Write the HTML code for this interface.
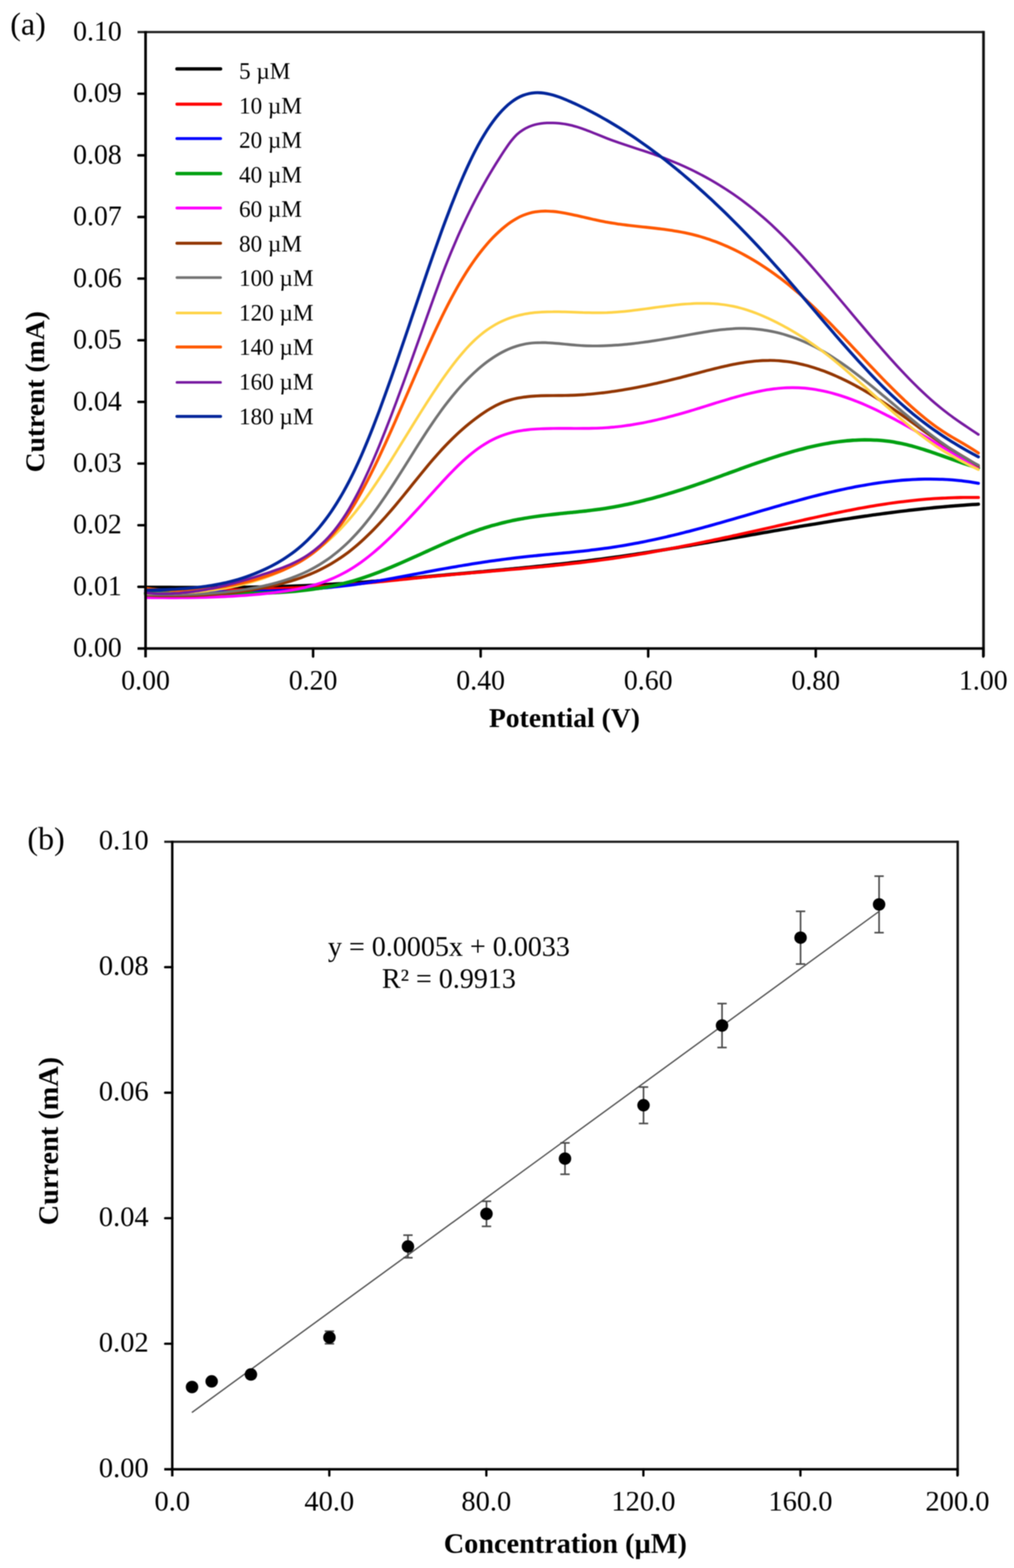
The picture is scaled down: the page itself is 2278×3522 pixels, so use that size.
<!DOCTYPE html>
<html lang="en"><head><meta charset="utf-8"><title>Figure</title>
<style>html,body{margin:0;padding:0;background:#fff;}svg{display:block;filter:blur(0.8px);}</style></head>
<body>
<svg width="2278" height="3522" viewBox="0 0 2278 3522" font-family="'Liberation Serif', serif" fill="#000">
<rect width="2278" height="3522" fill="#fff"/>
<g fill="none" stroke-linecap="round" stroke-linejoin="round">
<path d="M327.0,1319.1C329.2,1319.1 336.0,1319.1 340.5,1319.1C344.9,1319.2 349.4,1319.2 353.9,1319.2C358.4,1319.2 362.9,1319.3 367.4,1319.3C371.9,1319.3 376.4,1319.3 380.8,1319.3C385.3,1319.4 389.8,1319.4 394.3,1319.4C398.8,1319.4 403.3,1319.4 407.8,1319.5C412.2,1319.5 416.7,1319.5 421.2,1319.5C425.7,1319.5 430.2,1319.5 434.7,1319.5C439.2,1319.5 443.7,1319.5 448.1,1319.5C452.6,1319.5 457.1,1319.5 461.6,1319.5C466.1,1319.5 470.6,1319.5 475.1,1319.5C479.6,1319.5 484.0,1319.5 488.5,1319.5C493.0,1319.5 497.5,1319.4 502.0,1319.4C506.5,1319.4 511.0,1319.4 515.4,1319.3C519.9,1319.3 524.4,1319.3 528.9,1319.2C533.4,1319.2 537.9,1319.1 542.4,1319.1C546.9,1319.0 551.3,1319.0 555.8,1318.9C560.3,1318.8 564.8,1318.8 569.3,1318.7C573.8,1318.6 578.3,1318.5 582.7,1318.4C587.2,1318.4 591.7,1318.3 596.2,1318.2C600.7,1318.1 605.2,1318.0 609.7,1317.8C614.2,1317.7 618.6,1317.6 623.1,1317.5C627.6,1317.4 632.1,1317.2 636.6,1317.1C641.1,1316.9 645.6,1316.8 650.1,1316.6C654.5,1316.5 659.0,1316.3 663.5,1316.2C668.0,1316.0 672.5,1315.8 677.0,1315.6C681.5,1315.4 685.9,1315.3 690.4,1315.1C694.9,1314.9 699.4,1314.7 703.9,1314.4C708.4,1314.2 712.9,1314.0 717.4,1313.8C721.8,1313.6 726.3,1313.3 730.8,1313.1C735.3,1312.8 739.8,1312.6 744.3,1312.3C748.8,1312.1 753.2,1311.8 757.7,1311.5C762.2,1311.3 766.7,1311.0 771.2,1310.7C775.7,1310.4 780.2,1310.1 784.7,1309.8C789.1,1309.5 793.6,1309.2 798.1,1308.9C802.6,1308.6 807.1,1308.2 811.6,1307.9C816.1,1307.6 820.5,1307.2 825.0,1306.9C829.5,1306.6 834.0,1306.2 838.5,1305.8C843.0,1305.5 847.5,1305.1 852.0,1304.7C856.4,1304.4 860.9,1304.0 865.4,1303.6C869.9,1303.2 874.4,1302.9 878.9,1302.5C883.4,1302.1 887.9,1301.7 892.3,1301.3C896.8,1300.9 901.3,1300.5 905.8,1300.1C910.3,1299.7 914.8,1299.3 919.3,1298.9C923.7,1298.5 928.2,1298.1 932.7,1297.7C937.2,1297.3 941.7,1296.9 946.2,1296.5C950.7,1296.0 955.2,1295.6 959.6,1295.2C964.1,1294.8 968.6,1294.4 973.1,1294.0C977.6,1293.6 982.1,1293.2 986.6,1292.8C991.0,1292.4 995.5,1291.9 1000.0,1291.5C1004.5,1291.1 1009.0,1290.7 1013.5,1290.3C1018.0,1289.9 1022.5,1289.5 1026.9,1289.1C1031.4,1288.7 1035.9,1288.3 1040.4,1287.9C1044.9,1287.5 1049.4,1287.1 1053.9,1286.7C1058.4,1286.3 1062.8,1285.9 1067.3,1285.5C1071.8,1285.1 1076.3,1284.7 1080.8,1284.3C1085.3,1283.8 1089.8,1283.4 1094.2,1283.0C1098.7,1282.6 1103.2,1282.2 1107.7,1281.8C1112.2,1281.4 1116.7,1281.0 1121.2,1280.5C1125.7,1280.1 1130.1,1279.7 1134.6,1279.3C1139.1,1278.9 1143.6,1278.4 1148.1,1278.0C1152.6,1277.6 1157.1,1277.2 1161.5,1276.7C1166.0,1276.3 1170.5,1275.9 1175.0,1275.4C1179.5,1275.0 1184.0,1274.5 1188.5,1274.1C1193.0,1273.6 1197.4,1273.2 1201.9,1272.7C1206.4,1272.3 1210.9,1271.8 1215.4,1271.4C1219.9,1270.9 1224.4,1270.4 1228.8,1270.0C1233.3,1269.5 1237.8,1269.0 1242.3,1268.5C1246.8,1268.0 1251.3,1267.6 1255.8,1267.1C1260.3,1266.6 1264.7,1266.1 1269.2,1265.6C1273.7,1265.1 1278.2,1264.5 1282.7,1264.0C1287.2,1263.5 1291.7,1263.0 1296.2,1262.5C1300.6,1261.9 1305.1,1261.4 1309.6,1260.9C1314.1,1260.3 1318.6,1259.8 1323.1,1259.2C1327.6,1258.7 1332.0,1258.1 1336.5,1257.5C1341.0,1256.9 1345.5,1256.4 1350.0,1255.8C1354.5,1255.2 1359.0,1254.6 1363.5,1254.0C1367.9,1253.4 1372.4,1252.8 1376.9,1252.2C1381.4,1251.6 1385.9,1250.9 1390.4,1250.3C1394.9,1249.7 1399.3,1249.0 1403.8,1248.4C1408.3,1247.7 1412.8,1247.1 1417.3,1246.4C1421.8,1245.8 1426.3,1245.1 1430.8,1244.4C1435.2,1243.7 1439.7,1243.1 1444.2,1242.4C1448.7,1241.7 1453.2,1241.0 1457.7,1240.3C1462.2,1239.6 1466.6,1238.9 1471.1,1238.2C1475.6,1237.5 1480.1,1236.8 1484.6,1236.1C1489.1,1235.3 1493.6,1234.6 1498.1,1233.9C1502.5,1233.2 1507.0,1232.4 1511.5,1231.7C1516.0,1231.0 1520.5,1230.2 1525.0,1229.5C1529.5,1228.7 1534.0,1228.0 1538.4,1227.2C1542.9,1226.5 1547.4,1225.7 1551.9,1225.0C1556.4,1224.2 1560.9,1223.4 1565.4,1222.7C1569.8,1221.9 1574.3,1221.2 1578.8,1220.4C1583.3,1219.6 1587.8,1218.8 1592.3,1218.1C1596.8,1217.3 1601.3,1216.5 1605.7,1215.7C1610.2,1215.0 1614.7,1214.2 1619.2,1213.4C1623.7,1212.6 1628.2,1211.8 1632.7,1211.1C1637.1,1210.3 1641.6,1209.5 1646.1,1208.7C1650.6,1207.9 1655.1,1207.1 1659.6,1206.3C1664.1,1205.6 1668.6,1204.8 1673.0,1204.0C1677.5,1203.2 1682.0,1202.4 1686.5,1201.6C1691.0,1200.8 1695.5,1200.0 1700.0,1199.3C1704.5,1198.5 1708.9,1197.7 1713.4,1196.9C1717.9,1196.1 1722.4,1195.3 1726.9,1194.6C1731.4,1193.8 1735.9,1193.0 1740.3,1192.2C1744.8,1191.4 1749.3,1190.7 1753.8,1189.9C1758.3,1189.1 1762.8,1188.3 1767.3,1187.6C1771.8,1186.8 1776.2,1186.0 1780.7,1185.3C1785.2,1184.5 1789.7,1183.7 1794.2,1183.0C1798.7,1182.2 1803.2,1181.5 1807.6,1180.7C1812.1,1180.0 1816.6,1179.2 1821.1,1178.5C1825.6,1177.7 1830.1,1177.0 1834.6,1176.3C1839.1,1175.5 1843.5,1174.8 1848.0,1174.1C1852.5,1173.3 1857.0,1172.6 1861.5,1171.9C1866.0,1171.2 1870.5,1170.4 1874.9,1169.7C1879.4,1169.0 1883.9,1168.3 1888.4,1167.6C1892.9,1166.9 1897.4,1166.2 1901.9,1165.6C1906.4,1164.9 1910.8,1164.2 1915.3,1163.5C1919.8,1162.8 1924.3,1162.2 1928.8,1161.5C1933.3,1160.8 1937.8,1160.2 1942.3,1159.5C1946.7,1158.9 1951.2,1158.3 1955.7,1157.6C1960.2,1157.0 1964.7,1156.4 1969.2,1155.7C1973.7,1155.1 1978.1,1154.5 1982.6,1153.9C1987.1,1153.3 1991.6,1152.7 1996.1,1152.1C2000.6,1151.5 2005.1,1151.0 2009.6,1150.4C2014.0,1149.8 2018.5,1149.3 2023.0,1148.7C2027.5,1148.2 2032.0,1147.6 2036.5,1147.1C2041.0,1146.5 2045.4,1146.0 2049.9,1145.5C2054.4,1145.0 2058.9,1144.5 2063.4,1144.0C2067.9,1143.5 2072.4,1143.0 2076.9,1142.5C2081.3,1142.1 2085.8,1141.6 2090.3,1141.1C2094.8,1140.7 2099.3,1140.3 2103.8,1139.8C2108.3,1139.4 2112.8,1139.0 2117.2,1138.6C2121.7,1138.2 2126.2,1137.8 2130.7,1137.4C2135.2,1137.0 2139.7,1136.6 2144.2,1136.3C2148.6,1135.9 2153.1,1135.5 2157.6,1135.2C2162.1,1134.9 2166.6,1134.6 2171.1,1134.2C2175.6,1133.9 2180.1,1133.6 2184.5,1133.3C2189.0,1133.1 2195.8,1132.7 2198.0,1132.5" stroke="#000000" stroke-width="7.4"/>
<path d="M327.0,1331.0C329.2,1330.9 336.0,1330.6 340.5,1330.4C344.9,1330.3 349.4,1330.1 353.9,1329.9C358.4,1329.7 362.9,1329.6 367.4,1329.4C371.9,1329.2 376.4,1329.1 380.8,1328.9C385.3,1328.8 389.8,1328.6 394.3,1328.5C398.8,1328.4 403.3,1328.2 407.8,1328.1C412.2,1328.0 416.7,1327.8 421.2,1327.7C425.7,1327.6 430.2,1327.5 434.7,1327.3C439.2,1327.2 443.7,1327.1 448.1,1327.0C452.6,1326.9 457.1,1326.8 461.6,1326.7C466.1,1326.5 470.6,1326.4 475.1,1326.3C479.6,1326.2 484.0,1326.1 488.5,1326.0C493.0,1325.9 497.5,1325.8 502.0,1325.7C506.5,1325.6 511.0,1325.4 515.4,1325.3C519.9,1325.2 524.4,1325.1 528.9,1325.0C533.4,1324.9 537.9,1324.8 542.4,1324.6C546.9,1324.5 551.3,1324.4 555.8,1324.3C560.3,1324.2 564.8,1324.0 569.3,1323.9C573.8,1323.8 578.3,1323.6 582.7,1323.5C587.2,1323.3 591.7,1323.2 596.2,1323.1C600.7,1322.9 605.2,1322.7 609.7,1322.6C614.2,1322.4 618.6,1322.3 623.1,1322.1C627.6,1321.9 632.1,1321.7 636.6,1321.5C641.1,1321.4 645.6,1321.2 650.1,1321.0C654.5,1320.8 659.0,1320.6 663.5,1320.4C668.0,1320.2 672.5,1319.9 677.0,1319.7C681.5,1319.5 685.9,1319.3 690.4,1319.0C694.9,1318.8 699.4,1318.5 703.9,1318.3C708.4,1318.0 712.9,1317.8 717.4,1317.5C721.8,1317.2 726.3,1316.9 730.8,1316.7C735.3,1316.4 739.8,1316.1 744.3,1315.8C748.8,1315.5 753.2,1315.2 757.7,1314.8C762.2,1314.5 766.7,1314.2 771.2,1313.8C775.7,1313.5 780.2,1313.2 784.7,1312.8C789.1,1312.5 793.6,1312.1 798.1,1311.7C802.6,1311.3 807.1,1311.0 811.6,1310.6C816.1,1310.2 820.5,1309.8 825.0,1309.4C829.5,1308.9 834.0,1308.5 838.5,1308.1C843.0,1307.7 847.5,1307.3 852.0,1306.8C856.4,1306.4 860.9,1306.0 865.4,1305.5C869.9,1305.1 874.4,1304.6 878.9,1304.2C883.4,1303.7 887.9,1303.3 892.3,1302.8C896.8,1302.4 901.3,1301.9 905.8,1301.4C910.3,1301.0 914.8,1300.5 919.3,1300.1C923.7,1299.6 928.2,1299.2 932.7,1298.7C937.2,1298.3 941.7,1297.8 946.2,1297.3C950.7,1296.9 955.2,1296.4 959.6,1296.0C964.1,1295.5 968.6,1295.1 973.1,1294.7C977.6,1294.2 982.1,1293.8 986.6,1293.4C991.0,1292.9 995.5,1292.5 1000.0,1292.1C1004.5,1291.7 1009.0,1291.3 1013.5,1290.9C1018.0,1290.5 1022.5,1290.1 1026.9,1289.7C1031.4,1289.3 1035.9,1288.9 1040.4,1288.5C1044.9,1288.1 1049.4,1287.7 1053.9,1287.3C1058.4,1286.9 1062.8,1286.5 1067.3,1286.1C1071.8,1285.7 1076.3,1285.4 1080.8,1285.0C1085.3,1284.6 1089.8,1284.2 1094.2,1283.8C1098.7,1283.4 1103.2,1283.1 1107.7,1282.7C1112.2,1282.3 1116.7,1281.9 1121.2,1281.5C1125.7,1281.2 1130.1,1280.8 1134.6,1280.4C1139.1,1280.0 1143.6,1279.6 1148.1,1279.2C1152.6,1278.8 1157.1,1278.5 1161.5,1278.1C1166.0,1277.7 1170.5,1277.3 1175.0,1276.9C1179.5,1276.5 1184.0,1276.1 1188.5,1275.7C1193.0,1275.2 1197.4,1274.8 1201.9,1274.4C1206.4,1274.0 1210.9,1273.6 1215.4,1273.1C1219.9,1272.7 1224.4,1272.3 1228.8,1271.8C1233.3,1271.4 1237.8,1271.0 1242.3,1270.5C1246.8,1270.1 1251.3,1269.6 1255.8,1269.1C1260.3,1268.7 1264.7,1268.2 1269.2,1267.7C1273.7,1267.2 1278.2,1266.7 1282.7,1266.2C1287.2,1265.7 1291.7,1265.2 1296.2,1264.7C1300.6,1264.2 1305.1,1263.7 1309.6,1263.1C1314.1,1262.6 1318.6,1262.1 1323.1,1261.5C1327.6,1260.9 1332.0,1260.4 1336.5,1259.8C1341.0,1259.2 1345.5,1258.6 1350.0,1258.0C1354.5,1257.4 1359.0,1256.8 1363.5,1256.2C1367.9,1255.5 1372.4,1254.9 1376.9,1254.3C1381.4,1253.6 1385.9,1252.9 1390.4,1252.3C1394.9,1251.6 1399.3,1250.9 1403.8,1250.2C1408.3,1249.5 1412.8,1248.8 1417.3,1248.1C1421.8,1247.3 1426.3,1246.6 1430.8,1245.9C1435.2,1245.1 1439.7,1244.4 1444.2,1243.6C1448.7,1242.9 1453.2,1242.1 1457.7,1241.3C1462.2,1240.5 1466.6,1239.7 1471.1,1238.9C1475.6,1238.1 1480.1,1237.3 1484.6,1236.5C1489.1,1235.7 1493.6,1234.8 1498.1,1234.0C1502.5,1233.2 1507.0,1232.3 1511.5,1231.5C1516.0,1230.6 1520.5,1229.7 1525.0,1228.9C1529.5,1228.0 1534.0,1227.1 1538.4,1226.2C1542.9,1225.3 1547.4,1224.4 1551.9,1223.5C1556.4,1222.6 1560.9,1221.7 1565.4,1220.8C1569.8,1219.9 1574.3,1219.0 1578.8,1218.1C1583.3,1217.1 1587.8,1216.2 1592.3,1215.3C1596.8,1214.3 1601.3,1213.4 1605.7,1212.4C1610.2,1211.5 1614.7,1210.5 1619.2,1209.6C1623.7,1208.6 1628.2,1207.6 1632.7,1206.7C1637.1,1205.7 1641.6,1204.7 1646.1,1203.7C1650.6,1202.8 1655.1,1201.8 1659.6,1200.8C1664.1,1199.8 1668.6,1198.8 1673.0,1197.8C1677.5,1196.8 1682.0,1195.8 1686.5,1194.8C1691.0,1193.8 1695.5,1192.8 1700.0,1191.8C1704.5,1190.8 1708.9,1189.8 1713.4,1188.8C1717.9,1187.8 1722.4,1186.7 1726.9,1185.7C1731.4,1184.7 1735.9,1183.7 1740.3,1182.7C1744.8,1181.7 1749.3,1180.6 1753.8,1179.6C1758.3,1178.6 1762.8,1177.6 1767.3,1176.6C1771.8,1175.5 1776.2,1174.5 1780.7,1173.5C1785.2,1172.5 1789.7,1171.5 1794.2,1170.5C1798.7,1169.4 1803.2,1168.4 1807.6,1167.4C1812.1,1166.4 1816.6,1165.4 1821.1,1164.4C1825.6,1163.4 1830.1,1162.4 1834.6,1161.5C1839.1,1160.5 1843.5,1159.5 1848.0,1158.5C1852.5,1157.6 1857.0,1156.6 1861.5,1155.7C1866.0,1154.7 1870.5,1153.8 1874.9,1152.8C1879.4,1151.9 1883.9,1151.0 1888.4,1150.1C1892.9,1149.2 1897.4,1148.3 1901.9,1147.4C1906.4,1146.5 1910.8,1145.6 1915.3,1144.8C1919.8,1143.9 1924.3,1143.1 1928.8,1142.2C1933.3,1141.4 1937.8,1140.6 1942.3,1139.8C1946.7,1139.0 1951.2,1138.2 1955.7,1137.4C1960.2,1136.7 1964.7,1135.9 1969.2,1135.2C1973.7,1134.5 1978.1,1133.8 1982.6,1133.1C1987.1,1132.4 1991.6,1131.7 1996.1,1131.0C2000.6,1130.4 2005.1,1129.8 2009.6,1129.2C2014.0,1128.5 2018.5,1128.0 2023.0,1127.4C2027.5,1126.8 2032.0,1126.3 2036.5,1125.8C2041.0,1125.3 2045.4,1124.8 2049.9,1124.3C2054.4,1123.8 2058.9,1123.4 2063.4,1122.9C2067.9,1122.5 2072.4,1122.1 2076.9,1121.7C2081.3,1121.3 2085.8,1121.0 2090.3,1120.7C2094.8,1120.3 2099.3,1120.0 2103.8,1119.7C2108.3,1119.5 2112.8,1119.2 2117.2,1119.0C2121.7,1118.7 2126.2,1118.5 2130.7,1118.3C2135.2,1118.2 2139.7,1118.0 2144.2,1117.9C2148.6,1117.7 2153.1,1117.6 2157.6,1117.5C2162.1,1117.4 2166.6,1117.4 2171.1,1117.3C2175.6,1117.3 2180.1,1117.3 2184.5,1117.3C2189.0,1117.3 2195.8,1117.4 2198.0,1117.4" stroke="#FF0000" stroke-width="6.8"/>
<path d="M327.0,1329.2C329.2,1329.2 336.0,1329.2 340.5,1329.2C344.9,1329.2 349.4,1329.2 353.9,1329.2C358.4,1329.2 362.9,1329.2 367.4,1329.2C371.9,1329.2 376.4,1329.2 380.8,1329.3C385.3,1329.3 389.8,1329.3 394.3,1329.3C398.8,1329.3 403.3,1329.3 407.8,1329.3C412.2,1329.3 416.7,1329.3 421.2,1329.3C425.7,1329.3 430.2,1329.3 434.7,1329.3C439.2,1329.3 443.7,1329.3 448.1,1329.3C452.6,1329.3 457.1,1329.3 461.6,1329.3C466.1,1329.3 470.6,1329.2 475.1,1329.2C479.6,1329.2 484.0,1329.2 488.5,1329.2C493.0,1329.1 497.5,1329.1 502.0,1329.1C506.5,1329.0 511.0,1329.0 515.4,1329.0C519.9,1328.9 524.4,1328.9 528.9,1328.8C533.4,1328.8 537.9,1328.7 542.4,1328.6C546.9,1328.6 551.3,1328.5 555.8,1328.4C560.3,1328.4 564.8,1328.3 569.3,1328.2C573.8,1328.1 578.3,1328.0 582.7,1327.9C587.2,1327.8 591.7,1327.6 596.2,1327.5C600.7,1327.4 605.2,1327.3 609.7,1327.1C614.2,1327.0 618.6,1326.8 623.1,1326.7C627.6,1326.5 632.1,1326.3 636.6,1326.2C641.1,1326.0 645.6,1325.8 650.1,1325.6C654.5,1325.4 659.0,1325.1 663.5,1324.9C668.0,1324.7 672.5,1324.4 677.0,1324.2C681.5,1323.9 685.9,1323.6 690.4,1323.3C694.9,1323.1 699.4,1322.8 703.9,1322.4C708.4,1322.1 712.9,1321.8 717.4,1321.4C721.8,1321.1 726.3,1320.7 730.8,1320.3C735.3,1319.9 739.8,1319.5 744.3,1319.0C748.8,1318.6 753.2,1318.2 757.7,1317.7C762.2,1317.2 766.7,1316.7 771.2,1316.2C775.7,1315.7 780.2,1315.1 784.7,1314.6C789.1,1314.0 793.6,1313.4 798.1,1312.8C802.6,1312.2 807.1,1311.6 811.6,1310.9C816.1,1310.2 820.5,1309.6 825.0,1308.9C829.5,1308.2 834.0,1307.4 838.5,1306.7C843.0,1306.0 847.5,1305.2 852.0,1304.4C856.4,1303.7 860.9,1302.9 865.4,1302.1C869.9,1301.3 874.4,1300.5 878.9,1299.7C883.4,1298.9 887.9,1298.0 892.3,1297.2C896.8,1296.4 901.3,1295.5 905.8,1294.7C910.3,1293.8 914.8,1293.0 919.3,1292.1C923.7,1291.3 928.2,1290.4 932.7,1289.6C937.2,1288.7 941.7,1287.8 946.2,1287.0C950.7,1286.1 955.2,1285.3 959.6,1284.4C964.1,1283.6 968.6,1282.7 973.1,1281.9C977.6,1281.1 982.1,1280.2 986.6,1279.4C991.0,1278.6 995.5,1277.8 1000.0,1277.0C1004.5,1276.2 1009.0,1275.4 1013.5,1274.6C1018.0,1273.8 1022.5,1273.0 1026.9,1272.3C1031.4,1271.5 1035.9,1270.7 1040.4,1270.0C1044.9,1269.2 1049.4,1268.5 1053.9,1267.8C1058.4,1267.1 1062.8,1266.3 1067.3,1265.6C1071.8,1264.9 1076.3,1264.3 1080.8,1263.6C1085.3,1262.9 1089.8,1262.2 1094.2,1261.6C1098.7,1260.9 1103.2,1260.3 1107.7,1259.7C1112.2,1259.0 1116.7,1258.4 1121.2,1257.8C1125.7,1257.2 1130.1,1256.6 1134.6,1256.0C1139.1,1255.4 1143.6,1254.9 1148.1,1254.3C1152.6,1253.8 1157.1,1253.2 1161.5,1252.7C1166.0,1252.2 1170.5,1251.7 1175.0,1251.2C1179.5,1250.7 1184.0,1250.2 1188.5,1249.7C1193.0,1249.3 1197.4,1248.8 1201.9,1248.3C1206.4,1247.9 1210.9,1247.5 1215.4,1247.0C1219.9,1246.6 1224.4,1246.1 1228.8,1245.7C1233.3,1245.3 1237.8,1244.9 1242.3,1244.4C1246.8,1244.0 1251.3,1243.6 1255.8,1243.2C1260.3,1242.7 1264.7,1242.3 1269.2,1241.9C1273.7,1241.4 1278.2,1241.0 1282.7,1240.6C1287.2,1240.1 1291.7,1239.7 1296.2,1239.2C1300.6,1238.7 1305.1,1238.2 1309.6,1237.8C1314.1,1237.3 1318.6,1236.8 1323.1,1236.3C1327.6,1235.7 1332.0,1235.2 1336.5,1234.7C1341.0,1234.1 1345.5,1233.5 1350.0,1232.9C1354.5,1232.4 1359.0,1231.7 1363.5,1231.1C1367.9,1230.5 1372.4,1229.8 1376.9,1229.1C1381.4,1228.5 1385.9,1227.8 1390.4,1227.0C1394.9,1226.3 1399.3,1225.6 1403.8,1224.8C1408.3,1224.0 1412.8,1223.2 1417.3,1222.4C1421.8,1221.6 1426.3,1220.8 1430.8,1219.9C1435.2,1219.1 1439.7,1218.2 1444.2,1217.3C1448.7,1216.4 1453.2,1215.5 1457.7,1214.5C1462.2,1213.6 1466.6,1212.7 1471.1,1211.7C1475.6,1210.7 1480.1,1209.7 1484.6,1208.7C1489.1,1207.7 1493.6,1206.7 1498.1,1205.7C1502.5,1204.6 1507.0,1203.6 1511.5,1202.5C1516.0,1201.4 1520.5,1200.3 1525.0,1199.2C1529.5,1198.1 1534.0,1197.0 1538.4,1195.8C1542.9,1194.7 1547.4,1193.6 1551.9,1192.4C1556.4,1191.2 1560.9,1190.0 1565.4,1188.8C1569.8,1187.6 1574.3,1186.4 1578.8,1185.2C1583.3,1184.0 1587.8,1182.8 1592.3,1181.5C1596.8,1180.3 1601.3,1179.0 1605.7,1177.8C1610.2,1176.5 1614.7,1175.2 1619.2,1174.0C1623.7,1172.7 1628.2,1171.4 1632.7,1170.1C1637.1,1168.8 1641.6,1167.5 1646.1,1166.2C1650.6,1164.9 1655.1,1163.6 1659.6,1162.3C1664.1,1161.0 1668.6,1159.7 1673.0,1158.4C1677.5,1157.1 1682.0,1155.7 1686.5,1154.4C1691.0,1153.1 1695.5,1151.8 1700.0,1150.5C1704.5,1149.2 1708.9,1147.9 1713.4,1146.6C1717.9,1145.3 1722.4,1144.0 1726.9,1142.7C1731.4,1141.4 1735.9,1140.1 1740.3,1138.8C1744.8,1137.5 1749.3,1136.2 1753.8,1134.9C1758.3,1133.7 1762.8,1132.4 1767.3,1131.1C1771.8,1129.9 1776.2,1128.6 1780.7,1127.4C1785.2,1126.1 1789.7,1124.9 1794.2,1123.7C1798.7,1122.5 1803.2,1121.3 1807.6,1120.1C1812.1,1118.9 1816.6,1117.7 1821.1,1116.5C1825.6,1115.4 1830.1,1114.2 1834.6,1113.1C1839.1,1112.0 1843.5,1110.8 1848.0,1109.7C1852.5,1108.6 1857.0,1107.6 1861.5,1106.5C1866.0,1105.4 1870.5,1104.4 1874.9,1103.4C1879.4,1102.3 1883.9,1101.3 1888.4,1100.4C1892.9,1099.4 1897.4,1098.4 1901.9,1097.5C1906.4,1096.6 1910.8,1095.6 1915.3,1094.8C1919.8,1093.9 1924.3,1093.0 1928.8,1092.2C1933.3,1091.3 1937.8,1090.5 1942.3,1089.8C1946.7,1089.0 1951.2,1088.2 1955.7,1087.5C1960.2,1086.8 1964.7,1086.1 1969.2,1085.4C1973.7,1084.8 1978.1,1084.1 1982.6,1083.5C1987.1,1082.9 1991.6,1082.4 1996.1,1081.8C2000.6,1081.3 2005.1,1080.8 2009.6,1080.3C2014.0,1079.9 2018.5,1079.4 2023.0,1079.0C2027.5,1078.6 2032.0,1078.3 2036.5,1078.0C2041.0,1077.7 2045.4,1077.4 2049.9,1077.1C2054.4,1076.9 2058.9,1076.7 2063.4,1076.5C2067.9,1076.4 2072.4,1076.3 2076.9,1076.2C2081.3,1076.1 2085.8,1076.1 2090.3,1076.1C2094.8,1076.1 2099.3,1076.2 2103.8,1076.3C2108.3,1076.4 2112.8,1076.5 2117.2,1076.7C2121.7,1076.9 2126.2,1077.1 2130.7,1077.4C2135.2,1077.7 2139.7,1078.0 2144.2,1078.4C2148.6,1078.8 2153.1,1079.3 2157.6,1079.7C2162.1,1080.2 2166.6,1080.8 2171.1,1081.4C2175.6,1082.0 2180.1,1082.6 2184.5,1083.3C2189.0,1084.0 2195.8,1085.2 2198.0,1085.6" stroke="#0000FF" stroke-width="6.8"/>
<path d="M327.0,1333.1C329.2,1333.1 336.0,1333.0 340.5,1333.0C344.9,1333.0 349.4,1332.9 353.9,1332.9C358.4,1332.9 362.9,1332.9 367.4,1332.9C371.9,1332.9 376.4,1332.9 380.8,1332.9C385.3,1333.0 389.8,1333.0 394.3,1333.0C398.8,1333.0 403.3,1333.0 407.8,1333.1C412.2,1333.1 416.7,1333.1 421.2,1333.2C425.7,1333.2 430.2,1333.2 434.7,1333.3C439.2,1333.3 443.7,1333.3 448.1,1333.4C452.6,1333.4 457.1,1333.4 461.6,1333.5C466.1,1333.5 470.6,1333.5 475.1,1333.6C479.6,1333.6 484.0,1333.6 488.5,1333.6C493.0,1333.6 497.5,1333.6 502.0,1333.6C506.5,1333.6 511.0,1333.6 515.4,1333.6C519.9,1333.6 524.4,1333.5 528.9,1333.5C533.4,1333.5 537.9,1333.4 542.4,1333.4C546.9,1333.3 551.3,1333.3 555.8,1333.2C560.3,1333.1 564.8,1333.0 569.3,1332.9C573.8,1332.8 578.3,1332.7 582.7,1332.5C587.2,1332.4 591.7,1332.2 596.2,1332.1C600.7,1331.9 605.2,1331.7 609.7,1331.5C614.2,1331.3 618.6,1331.1 623.1,1330.8C627.6,1330.6 632.1,1330.3 636.6,1330.0C641.1,1329.7 645.6,1329.4 650.1,1329.1C654.5,1328.7 659.0,1328.4 663.5,1328.0C668.0,1327.6 672.5,1327.1 677.0,1326.7C681.5,1326.2 685.9,1325.7 690.4,1325.2C694.9,1324.6 699.4,1324.0 703.9,1323.4C708.4,1322.8 712.9,1322.2 717.4,1321.5C721.8,1320.8 726.3,1320.0 730.8,1319.2C735.3,1318.4 739.8,1317.6 744.3,1316.7C748.8,1315.8 753.2,1314.9 757.7,1313.9C762.2,1312.9 766.7,1311.9 771.2,1310.8C775.7,1309.7 780.2,1308.5 784.7,1307.3C789.1,1306.1 793.6,1304.8 798.1,1303.5C802.6,1302.1 807.1,1300.7 811.6,1299.3C816.1,1297.8 820.5,1296.3 825.0,1294.7C829.5,1293.2 834.0,1291.6 838.5,1289.9C843.0,1288.2 847.5,1286.5 852.0,1284.8C856.4,1283.1 860.9,1281.3 865.4,1279.4C869.9,1277.6 874.4,1275.8 878.9,1273.9C883.4,1272.0 887.9,1270.1 892.3,1268.2C896.8,1266.2 901.3,1264.3 905.8,1262.3C910.3,1260.3 914.8,1258.3 919.3,1256.3C923.7,1254.3 928.2,1252.3 932.7,1250.3C937.2,1248.2 941.7,1246.2 946.2,1244.2C950.7,1242.1 955.2,1240.1 959.6,1238.1C964.1,1236.0 968.6,1234.0 973.1,1232.0C977.6,1230.0 982.1,1228.0 986.6,1226.0C991.0,1224.0 995.5,1222.0 1000.0,1220.0C1004.5,1218.1 1009.0,1216.1 1013.5,1214.2C1018.0,1212.3 1022.5,1210.4 1026.9,1208.6C1031.4,1206.7 1035.9,1204.9 1040.4,1203.1C1044.9,1201.3 1049.4,1199.6 1053.9,1197.9C1058.4,1196.2 1062.8,1194.6 1067.3,1193.0C1071.8,1191.4 1076.3,1189.8 1080.8,1188.3C1085.3,1186.8 1089.8,1185.4 1094.2,1184.0C1098.7,1182.7 1103.2,1181.3 1107.7,1180.1C1112.2,1178.8 1116.7,1177.6 1121.2,1176.4C1125.7,1175.2 1130.1,1174.1 1134.6,1173.1C1139.1,1172.0 1143.6,1171.0 1148.1,1170.0C1152.6,1169.0 1157.1,1168.1 1161.5,1167.2C1166.0,1166.4 1170.5,1165.5 1175.0,1164.8C1179.5,1164.0 1184.0,1163.2 1188.5,1162.5C1193.0,1161.8 1197.4,1161.2 1201.9,1160.5C1206.4,1159.9 1210.9,1159.3 1215.4,1158.7C1219.9,1158.1 1224.4,1157.6 1228.8,1157.0C1233.3,1156.5 1237.8,1156.0 1242.3,1155.5C1246.8,1155.0 1251.3,1154.5 1255.8,1154.0C1260.3,1153.6 1264.7,1153.1 1269.2,1152.6C1273.7,1152.2 1278.2,1151.7 1282.7,1151.2C1287.2,1150.8 1291.7,1150.3 1296.2,1149.8C1300.6,1149.4 1305.1,1148.9 1309.6,1148.4C1314.1,1147.9 1318.6,1147.4 1323.1,1146.8C1327.6,1146.3 1332.0,1145.7 1336.5,1145.2C1341.0,1144.6 1345.5,1144.0 1350.0,1143.3C1354.5,1142.7 1359.0,1142.0 1363.5,1141.3C1367.9,1140.6 1372.4,1139.8 1376.9,1139.1C1381.4,1138.3 1385.9,1137.5 1390.4,1136.6C1394.9,1135.8 1399.3,1134.9 1403.8,1133.9C1408.3,1133.0 1412.8,1132.1 1417.3,1131.1C1421.8,1130.1 1426.3,1129.1 1430.8,1128.0C1435.2,1127.0 1439.7,1125.9 1444.2,1124.8C1448.7,1123.7 1453.2,1122.5 1457.7,1121.3C1462.2,1120.2 1466.6,1119.0 1471.1,1117.7C1475.6,1116.5 1480.1,1115.3 1484.6,1114.0C1489.1,1112.7 1493.6,1111.4 1498.1,1110.1C1502.5,1108.7 1507.0,1107.4 1511.5,1106.0C1516.0,1104.6 1520.5,1103.2 1525.0,1101.8C1529.5,1100.4 1534.0,1098.9 1538.4,1097.5C1542.9,1096.0 1547.4,1094.5 1551.9,1093.0C1556.4,1091.5 1560.9,1089.9 1565.4,1088.4C1569.8,1086.9 1574.3,1085.3 1578.8,1083.7C1583.3,1082.1 1587.8,1080.6 1592.3,1079.0C1596.8,1077.4 1601.3,1075.8 1605.7,1074.1C1610.2,1072.5 1614.7,1070.9 1619.2,1069.3C1623.7,1067.6 1628.2,1066.0 1632.7,1064.4C1637.1,1062.7 1641.6,1061.1 1646.1,1059.5C1650.6,1057.9 1655.1,1056.2 1659.6,1054.6C1664.1,1053.0 1668.6,1051.4 1673.0,1049.7C1677.5,1048.1 1682.0,1046.5 1686.5,1044.9C1691.0,1043.4 1695.5,1041.8 1700.0,1040.2C1704.5,1038.6 1708.9,1037.1 1713.4,1035.6C1717.9,1034.0 1722.4,1032.5 1726.9,1031.0C1731.4,1029.5 1735.9,1028.1 1740.3,1026.6C1744.8,1025.2 1749.3,1023.7 1753.8,1022.3C1758.3,1020.9 1762.8,1019.6 1767.3,1018.2C1771.8,1016.9 1776.2,1015.6 1780.7,1014.3C1785.2,1013.0 1789.7,1011.8 1794.2,1010.6C1798.7,1009.4 1803.2,1008.2 1807.6,1007.1C1812.1,1005.9 1816.6,1004.8 1821.1,1003.8C1825.6,1002.7 1830.1,1001.7 1834.6,1000.8C1839.1,999.8 1843.5,998.9 1848.0,998.0C1852.5,997.1 1857.0,996.3 1861.5,995.6C1866.0,994.8 1870.5,994.1 1874.9,993.4C1879.4,992.8 1883.9,992.2 1888.4,991.6C1892.9,991.1 1897.4,990.6 1901.9,990.1C1906.4,989.7 1910.8,989.3 1915.3,989.0C1919.8,988.7 1924.3,988.5 1928.8,988.3C1933.3,988.2 1937.8,988.1 1942.3,988.0C1946.7,988.0 1951.2,988.0 1955.7,988.1C1960.2,988.3 1964.7,988.4 1969.2,988.7C1973.7,989.0 1978.1,989.3 1982.6,989.7C1987.1,990.1 1991.6,990.6 1996.1,991.2C2000.6,991.8 2005.1,992.5 2009.6,993.2C2014.0,994.0 2018.5,994.8 2023.0,995.7C2027.5,996.6 2032.0,997.7 2036.5,998.7C2041.0,999.8 2045.4,1001.0 2049.9,1002.2C2054.4,1003.4 2058.9,1004.7 2063.4,1006.1C2067.9,1007.4 2072.4,1008.8 2076.9,1010.2C2081.3,1011.7 2085.8,1013.1 2090.3,1014.7C2094.8,1016.2 2099.3,1017.7 2103.8,1019.3C2108.3,1020.8 2112.8,1022.4 2117.2,1024.0C2121.7,1025.6 2126.2,1027.2 2130.7,1028.8C2135.2,1030.4 2139.7,1032.0 2144.2,1033.6C2148.6,1035.2 2153.1,1036.8 2157.6,1038.3C2162.1,1039.9 2166.6,1041.4 2171.1,1042.9C2175.6,1044.4 2180.1,1045.9 2184.5,1047.3C2189.0,1048.7 2195.8,1050.7 2198.0,1051.4" stroke="#00A010" stroke-width="7.8"/>
<path d="M327.0,1342.3C329.2,1342.3 336.0,1342.4 340.5,1342.5C344.9,1342.5 349.4,1342.5 353.9,1342.6C358.4,1342.6 362.9,1342.6 367.4,1342.6C371.9,1342.7 376.4,1342.7 380.8,1342.7C385.3,1342.7 389.8,1342.7 394.3,1342.7C398.8,1342.6 403.3,1342.6 407.8,1342.6C412.2,1342.6 416.7,1342.5 421.2,1342.5C425.7,1342.4 430.2,1342.3 434.7,1342.3C439.2,1342.2 443.7,1342.1 448.1,1342.0C452.6,1341.9 457.1,1341.8 461.6,1341.7C466.1,1341.6 470.6,1341.4 475.1,1341.3C479.6,1341.1 484.0,1341.0 488.5,1340.8C493.0,1340.6 497.5,1340.4 502.0,1340.2C506.5,1340.0 511.0,1339.8 515.4,1339.6C519.9,1339.3 524.4,1339.1 528.9,1338.8C533.4,1338.5 537.9,1338.2 542.4,1337.9C546.9,1337.6 551.3,1337.3 555.8,1337.0C560.3,1336.6 564.8,1336.2 569.3,1335.9C573.8,1335.5 578.3,1335.1 582.7,1334.7C587.2,1334.2 591.7,1333.8 596.2,1333.3C600.7,1332.9 605.2,1332.4 609.7,1331.9C614.2,1331.3 618.6,1330.8 623.1,1330.2C627.6,1329.7 632.1,1329.1 636.6,1328.4C641.1,1327.8 645.6,1327.1 650.1,1326.4C654.5,1325.7 659.0,1324.9 663.5,1324.1C668.0,1323.2 672.5,1322.3 677.0,1321.3C681.5,1320.4 685.9,1319.3 690.4,1318.2C694.9,1317.1 699.4,1315.9 703.9,1314.6C708.4,1313.4 712.9,1312.0 717.4,1310.5C721.8,1309.1 726.3,1307.5 730.8,1305.9C735.3,1304.2 739.8,1302.4 744.3,1300.5C748.8,1298.7 753.2,1296.7 757.7,1294.5C762.2,1292.4 766.7,1290.2 771.2,1287.8C775.7,1285.4 780.2,1282.9 784.7,1280.2C789.1,1277.6 793.6,1274.8 798.1,1271.8C802.6,1268.9 807.1,1265.8 811.6,1262.6C816.1,1259.3 820.5,1256.0 825.0,1252.5C829.5,1249.0 834.0,1245.3 838.5,1241.6C843.0,1237.8 847.5,1234.0 852.0,1230.0C856.4,1226.0 860.9,1222.0 865.4,1217.8C869.9,1213.6 874.4,1209.4 878.9,1205.0C883.4,1200.7 887.9,1196.2 892.3,1191.7C896.8,1187.2 901.3,1182.6 905.8,1178.0C910.3,1173.4 914.8,1168.7 919.3,1163.9C923.7,1159.1 928.2,1154.3 932.7,1149.5C937.2,1144.6 941.7,1139.7 946.2,1134.8C950.7,1129.9 955.2,1125.0 959.6,1120.0C964.1,1115.1 968.6,1110.1 973.1,1105.1C977.6,1100.2 982.1,1095.2 986.6,1090.3C991.0,1085.4 995.5,1080.5 1000.0,1075.8C1004.5,1071.0 1009.0,1066.2 1013.5,1061.6C1018.0,1057.0 1022.5,1052.5 1026.9,1048.1C1031.4,1043.7 1035.9,1039.4 1040.4,1035.2C1044.9,1031.1 1049.4,1027.1 1053.9,1023.3C1058.4,1019.5 1062.8,1015.9 1067.3,1012.5C1071.8,1009.0 1076.3,1005.8 1080.8,1002.8C1085.3,999.8 1089.8,997.0 1094.2,994.4C1098.7,991.7 1103.2,989.3 1107.7,987.1C1112.2,984.9 1116.7,982.8 1121.2,981.0C1125.7,979.1 1130.1,977.5 1134.6,976.0C1139.1,974.5 1143.6,973.2 1148.1,972.0C1152.6,970.8 1157.1,969.8 1161.5,968.9C1166.0,968.0 1170.5,967.3 1175.0,966.6C1179.5,966.0 1184.0,965.5 1188.5,965.0C1193.0,964.5 1197.4,964.2 1201.9,963.9C1206.4,963.6 1210.9,963.3 1215.4,963.1C1219.9,962.9 1224.4,962.8 1228.8,962.7C1233.3,962.5 1237.8,962.5 1242.3,962.4C1246.8,962.3 1251.3,962.3 1255.8,962.3C1260.3,962.3 1264.7,962.3 1269.2,962.3C1273.7,962.3 1278.2,962.3 1282.7,962.3C1287.2,962.3 1291.7,962.4 1296.2,962.4C1300.6,962.4 1305.1,962.4 1309.6,962.3C1314.1,962.3 1318.6,962.3 1323.1,962.2C1327.6,962.1 1332.0,962.0 1336.5,961.9C1341.0,961.8 1345.5,961.6 1350.0,961.4C1354.5,961.2 1359.0,960.9 1363.5,960.6C1367.9,960.3 1372.4,959.9 1376.9,959.5C1381.4,959.1 1385.9,958.6 1390.4,958.1C1394.9,957.6 1399.3,957.0 1403.8,956.4C1408.3,955.8 1412.8,955.2 1417.3,954.5C1421.8,953.8 1426.3,953.0 1430.8,952.2C1435.2,951.4 1439.7,950.6 1444.2,949.8C1448.7,948.9 1453.2,948.0 1457.7,947.0C1462.2,946.1 1466.6,945.1 1471.1,944.1C1475.6,943.1 1480.1,942.1 1484.6,941.0C1489.1,939.9 1493.6,938.8 1498.1,937.6C1502.5,936.5 1507.0,935.3 1511.5,934.1C1516.0,932.9 1520.5,931.7 1525.0,930.4C1529.5,929.2 1534.0,927.9 1538.4,926.6C1542.9,925.3 1547.4,924.0 1551.9,922.6C1556.4,921.3 1560.9,919.9 1565.4,918.5C1569.8,917.2 1574.3,915.8 1578.8,914.4C1583.3,913.0 1587.8,911.5 1592.3,910.1C1596.8,908.7 1601.3,907.3 1605.7,905.9C1610.2,904.5 1614.7,903.1 1619.2,901.8C1623.7,900.4 1628.2,899.0 1632.7,897.7C1637.1,896.4 1641.6,895.0 1646.1,893.7C1650.6,892.5 1655.1,891.2 1659.6,890.0C1664.1,888.8 1668.6,887.6 1673.0,886.4C1677.5,885.3 1682.0,884.2 1686.5,883.1C1691.0,882.1 1695.5,881.1 1700.0,880.1C1704.5,879.2 1708.9,878.3 1713.4,877.4C1717.9,876.6 1722.4,875.8 1726.9,875.2C1731.4,874.5 1735.9,873.8 1740.3,873.3C1744.8,872.8 1749.3,872.3 1753.8,871.9C1758.3,871.5 1762.8,871.2 1767.3,871.0C1771.8,870.8 1776.2,870.7 1780.7,870.7C1785.2,870.7 1789.7,870.8 1794.2,871.0C1798.7,871.2 1803.2,871.4 1807.6,871.8C1812.1,872.2 1816.6,872.7 1821.1,873.3C1825.6,873.9 1830.1,874.6 1834.6,875.3C1839.1,876.1 1843.5,877.0 1848.0,877.9C1852.5,878.9 1857.0,879.9 1861.5,881.0C1866.0,882.1 1870.5,883.3 1874.9,884.6C1879.4,885.9 1883.9,887.2 1888.4,888.6C1892.9,890.1 1897.4,891.6 1901.9,893.1C1906.4,894.7 1910.8,896.3 1915.3,898.0C1919.8,899.7 1924.3,901.5 1928.8,903.3C1933.3,905.1 1937.8,907.0 1942.3,908.9C1946.7,910.9 1951.2,912.9 1955.7,914.9C1960.2,917.0 1964.7,919.1 1969.2,921.2C1973.7,923.4 1978.1,925.6 1982.6,927.8C1987.1,930.0 1991.6,932.3 1996.1,934.6C2000.6,937.0 2005.1,939.3 2009.6,941.7C2014.0,944.1 2018.5,946.5 2023.0,949.0C2027.5,951.5 2032.0,954.0 2036.5,956.5C2041.0,959.0 2045.4,961.5 2049.9,964.1C2054.4,966.7 2058.9,969.3 2063.4,971.9C2067.9,974.5 2072.4,977.1 2076.9,979.7C2081.3,982.4 2085.8,985.0 2090.3,987.7C2094.8,990.3 2099.3,993.0 2103.8,995.7C2108.3,998.4 2112.8,1001.0 2117.2,1003.7C2121.7,1006.4 2126.2,1009.1 2130.7,1011.7C2135.2,1014.4 2139.7,1017.1 2144.2,1019.7C2148.6,1022.3 2153.1,1024.9 2157.6,1027.4C2162.1,1029.9 2166.6,1032.4 2171.1,1034.8C2175.6,1037.2 2180.1,1039.6 2184.5,1041.9C2189.0,1044.1 2195.8,1047.4 2198.0,1048.4" stroke="#FF00FF" stroke-width="6.4"/>
<path d="M327.0,1337.0C329.2,1337.1 336.0,1337.3 340.5,1337.5C344.9,1337.6 349.4,1337.8 353.9,1337.9C358.4,1338.0 362.9,1338.1 367.4,1338.1C371.9,1338.2 376.4,1338.3 380.8,1338.3C385.3,1338.3 389.8,1338.3 394.3,1338.3C398.8,1338.3 403.3,1338.3 407.8,1338.2C412.2,1338.2 416.7,1338.1 421.2,1338.0C425.7,1337.9 430.2,1337.8 434.7,1337.6C439.2,1337.5 443.7,1337.3 448.1,1337.1C452.6,1336.9 457.1,1336.7 461.6,1336.4C466.1,1336.1 470.6,1335.9 475.1,1335.5C479.6,1335.2 484.0,1334.9 488.5,1334.5C493.0,1334.2 497.5,1333.8 502.0,1333.3C506.5,1332.9 511.0,1332.4 515.4,1331.9C519.9,1331.5 524.4,1330.9 528.9,1330.4C533.4,1329.8 537.9,1329.2 542.4,1328.6C546.9,1328.0 551.3,1327.3 555.8,1326.6C560.3,1325.9 564.8,1325.2 569.3,1324.4C573.8,1323.6 578.3,1322.8 582.7,1322.0C587.2,1321.1 591.7,1320.3 596.2,1319.3C600.7,1318.4 605.2,1317.5 609.7,1316.5C614.2,1315.5 618.6,1314.4 623.1,1313.3C627.6,1312.2 632.1,1311.1 636.6,1309.9C641.1,1308.7 645.6,1307.5 650.1,1306.2C654.5,1304.8 659.0,1303.5 663.5,1302.0C668.0,1300.5 672.5,1299.0 677.0,1297.4C681.5,1295.8 685.9,1294.1 690.4,1292.3C694.9,1290.5 699.4,1288.7 703.9,1286.7C708.4,1284.7 712.9,1282.6 717.4,1280.5C721.8,1278.3 726.3,1276.0 730.8,1273.6C735.3,1271.2 739.8,1268.7 744.3,1266.1C748.8,1263.4 753.2,1260.7 757.7,1257.8C762.2,1254.9 766.7,1251.9 771.2,1248.7C775.7,1245.5 780.2,1242.3 784.7,1238.8C789.1,1235.4 793.6,1231.8 798.1,1228.0C802.6,1224.3 807.1,1220.4 811.6,1216.3C816.1,1212.3 820.5,1208.1 825.0,1203.7C829.5,1199.4 834.0,1195.0 838.5,1190.4C843.0,1185.8 847.5,1181.1 852.0,1176.3C856.4,1171.5 860.9,1166.6 865.4,1161.6C869.9,1156.5 874.4,1151.4 878.9,1146.2C883.4,1141.0 887.9,1135.7 892.3,1130.3C896.8,1125.0 901.3,1119.5 905.8,1114.0C910.3,1108.5 914.8,1102.9 919.3,1097.4C923.7,1091.8 928.2,1086.2 932.7,1080.7C937.2,1075.1 941.7,1069.5 946.2,1064.0C950.7,1058.5 955.2,1053.0 959.6,1047.6C964.1,1042.2 968.6,1036.9 973.1,1031.7C977.6,1026.5 982.1,1021.3 986.6,1016.4C991.0,1011.4 995.5,1006.6 1000.0,1001.9C1004.5,997.1 1009.0,992.6 1013.5,988.1C1018.0,983.7 1022.5,979.4 1026.9,975.2C1031.4,971.0 1035.9,967.0 1040.4,963.1C1044.9,959.1 1049.4,955.3 1053.9,951.7C1058.4,948.0 1062.8,944.5 1067.3,941.1C1071.8,937.7 1076.3,934.4 1080.8,931.2C1085.3,928.1 1089.8,925.1 1094.2,922.2C1098.7,919.4 1103.2,916.7 1107.7,914.3C1112.2,911.8 1116.7,909.5 1121.2,907.5C1125.7,905.4 1130.1,903.6 1134.6,901.9C1139.1,900.3 1143.6,898.9 1148.1,897.7C1152.6,896.4 1157.1,895.4 1161.5,894.5C1166.0,893.6 1170.5,892.9 1175.0,892.2C1179.5,891.6 1184.0,891.1 1188.5,890.6C1193.0,890.2 1197.4,889.9 1201.9,889.6C1206.4,889.3 1210.9,889.1 1215.4,888.9C1219.9,888.8 1224.4,888.7 1228.8,888.6C1233.3,888.5 1237.8,888.5 1242.3,888.5C1246.8,888.4 1251.3,888.4 1255.8,888.4C1260.3,888.4 1264.7,888.3 1269.2,888.3C1273.7,888.2 1278.2,888.1 1282.7,887.9C1287.2,887.8 1291.7,887.6 1296.2,887.4C1300.6,887.1 1305.1,886.9 1309.6,886.6C1314.1,886.3 1318.6,885.9 1323.1,885.5C1327.6,885.2 1332.0,884.7 1336.5,884.3C1341.0,883.8 1345.5,883.3 1350.0,882.8C1354.5,882.3 1359.0,881.8 1363.5,881.2C1367.9,880.6 1372.4,880.0 1376.9,879.3C1381.4,878.7 1385.9,878.0 1390.4,877.3C1394.9,876.6 1399.3,875.8 1403.8,875.1C1408.3,874.3 1412.8,873.5 1417.3,872.7C1421.8,871.9 1426.3,871.0 1430.8,870.2C1435.2,869.3 1439.7,868.4 1444.2,867.5C1448.7,866.6 1453.2,865.7 1457.7,864.7C1462.2,863.7 1466.6,862.8 1471.1,861.8C1475.6,860.8 1480.1,859.8 1484.6,858.7C1489.1,857.7 1493.6,856.6 1498.1,855.6C1502.5,854.5 1507.0,853.4 1511.5,852.3C1516.0,851.2 1520.5,850.1 1525.0,849.0C1529.5,847.8 1534.0,846.7 1538.4,845.5C1542.9,844.4 1547.4,843.2 1551.9,842.0C1556.4,840.9 1560.9,839.7 1565.4,838.5C1569.8,837.3 1574.3,836.1 1578.8,834.9C1583.3,833.8 1587.8,832.6 1592.3,831.4C1596.8,830.3 1601.3,829.1 1605.7,828.0C1610.2,826.9 1614.7,825.8 1619.2,824.7C1623.7,823.7 1628.2,822.6 1632.7,821.7C1637.1,820.7 1641.6,819.7 1646.1,818.8C1650.6,817.9 1655.1,817.1 1659.6,816.3C1664.1,815.5 1668.6,814.7 1673.0,814.0C1677.5,813.4 1682.0,812.8 1686.5,812.2C1691.0,811.7 1695.5,811.2 1700.0,810.8C1704.5,810.5 1708.9,810.1 1713.4,809.9C1717.9,809.7 1722.4,809.6 1726.9,809.6C1731.4,809.5 1735.9,809.6 1740.3,809.8C1744.8,810.0 1749.3,810.3 1753.8,810.6C1758.3,811.0 1762.8,811.5 1767.3,812.1C1771.8,812.7 1776.2,813.3 1780.7,814.1C1785.2,814.9 1789.7,815.8 1794.2,816.7C1798.7,817.7 1803.2,818.7 1807.6,819.9C1812.1,821.0 1816.6,822.2 1821.1,823.6C1825.6,824.9 1830.1,826.3 1834.6,827.8C1839.1,829.2 1843.5,830.8 1848.0,832.4C1852.5,834.1 1857.0,835.8 1861.5,837.6C1866.0,839.4 1870.5,841.3 1874.9,843.2C1879.4,845.2 1883.9,847.2 1888.4,849.3C1892.9,851.4 1897.4,853.6 1901.9,855.8C1906.4,858.0 1910.8,860.3 1915.3,862.7C1919.8,865.0 1924.3,867.5 1928.8,869.9C1933.3,872.4 1937.8,875.0 1942.3,877.6C1946.7,880.2 1951.2,882.8 1955.7,885.6C1960.2,888.3 1964.7,891.0 1969.2,893.9C1973.7,896.7 1978.1,899.6 1982.6,902.5C1987.1,905.4 1991.6,908.4 1996.1,911.4C2000.6,914.4 2005.1,917.5 2009.6,920.6C2014.0,923.7 2018.5,926.8 2023.0,930.0C2027.5,933.2 2032.0,936.4 2036.5,939.7C2041.0,942.9 2045.4,946.2 2049.9,949.4C2054.4,952.7 2058.9,956.0 2063.4,959.2C2067.9,962.5 2072.4,965.8 2076.9,969.0C2081.3,972.2 2085.8,975.4 2090.3,978.5C2094.8,981.7 2099.3,984.8 2103.8,987.8C2108.3,990.9 2112.8,993.9 2117.2,996.8C2121.7,999.7 2126.2,1002.6 2130.7,1005.4C2135.2,1008.2 2139.7,1010.9 2144.2,1013.6C2148.6,1016.4 2153.1,1019.1 2157.6,1021.8C2162.1,1024.5 2166.6,1027.1 2171.1,1029.8C2175.6,1032.5 2180.1,1035.2 2184.5,1038.0C2189.0,1040.8 2195.8,1045.0 2198.0,1046.4" stroke="#923500" stroke-width="6.6"/>
<path d="M327.0,1335.6C329.2,1335.6 336.0,1335.7 340.5,1335.7C344.9,1335.8 349.4,1335.8 353.9,1335.8C358.4,1335.8 362.9,1335.9 367.4,1335.9C371.9,1335.9 376.4,1335.9 380.8,1335.8C385.3,1335.8 389.8,1335.8 394.3,1335.8C398.8,1335.7 403.3,1335.6 407.8,1335.6C412.2,1335.5 416.7,1335.4 421.2,1335.3C425.7,1335.1 430.2,1335.0 434.7,1334.8C439.2,1334.7 443.7,1334.5 448.1,1334.3C452.6,1334.1 457.1,1333.9 461.6,1333.6C466.1,1333.3 470.6,1333.0 475.1,1332.7C479.6,1332.4 484.0,1332.1 488.5,1331.7C493.0,1331.3 497.5,1330.9 502.0,1330.5C506.5,1330.0 511.0,1329.5 515.4,1329.0C519.9,1328.5 524.4,1327.9 528.9,1327.4C533.4,1326.8 537.9,1326.1 542.4,1325.5C546.9,1324.8 551.3,1324.1 555.8,1323.3C560.3,1322.6 564.8,1321.8 569.3,1320.9C573.8,1320.1 578.3,1319.2 582.7,1318.2C587.2,1317.3 591.7,1316.3 596.2,1315.2C600.7,1314.2 605.2,1313.1 609.7,1312.0C614.2,1310.8 618.6,1309.6 623.1,1308.4C627.6,1307.1 632.1,1305.8 636.6,1304.4C641.1,1303.0 645.6,1301.5 650.1,1299.9C654.5,1298.3 659.0,1296.7 663.5,1294.9C668.0,1293.2 672.5,1291.3 677.0,1289.4C681.5,1287.4 685.9,1285.3 690.4,1283.2C694.9,1281.0 699.4,1278.7 703.9,1276.2C708.4,1273.8 712.9,1271.2 717.4,1268.5C721.8,1265.8 726.3,1262.9 730.8,1259.9C735.3,1256.9 739.8,1253.7 744.3,1250.4C748.8,1247.0 753.2,1243.5 757.7,1239.9C762.2,1236.2 766.7,1232.3 771.2,1228.3C775.7,1224.2 780.2,1220.0 784.7,1215.6C789.1,1211.2 793.6,1206.5 798.1,1201.7C802.6,1196.9 807.1,1191.8 811.6,1186.6C816.1,1181.4 820.5,1175.9 825.0,1170.3C829.5,1164.7 834.0,1158.9 838.5,1152.9C843.0,1146.9 847.5,1140.8 852.0,1134.4C856.4,1128.1 860.9,1121.6 865.4,1115.0C869.9,1108.4 874.4,1101.7 878.9,1094.8C883.4,1088.0 887.9,1081.0 892.3,1074.0C896.8,1067.0 901.3,1059.9 905.8,1052.8C910.3,1045.6 914.8,1038.5 919.3,1031.3C923.7,1024.2 928.2,1017.0 932.7,1009.9C937.2,1002.8 941.7,995.7 946.2,988.8C950.7,981.8 955.2,974.8 959.6,968.0C964.1,961.2 968.6,954.5 973.1,947.9C977.6,941.3 982.1,934.9 986.6,928.7C991.0,922.4 995.5,916.3 1000.0,910.4C1004.5,904.5 1009.0,898.8 1013.5,893.2C1018.0,887.6 1022.5,882.3 1026.9,877.1C1031.4,871.9 1035.9,866.8 1040.4,862.0C1044.9,857.2 1049.4,852.5 1053.9,848.0C1058.4,843.6 1062.8,839.3 1067.3,835.2C1071.8,831.1 1076.3,827.1 1080.8,823.4C1085.3,819.7 1089.8,816.1 1094.2,812.8C1098.7,809.4 1103.2,806.3 1107.7,803.3C1112.2,800.4 1116.7,797.6 1121.2,795.0C1125.7,792.4 1130.1,790.1 1134.6,787.9C1139.1,785.7 1143.6,783.7 1148.1,781.9C1152.6,780.1 1157.1,778.6 1161.5,777.2C1166.0,775.8 1170.5,774.6 1175.0,773.7C1179.5,772.7 1184.0,771.9 1188.5,771.3C1193.0,770.7 1197.4,770.3 1201.9,770.0C1206.4,769.7 1210.9,769.6 1215.4,769.6C1219.9,769.5 1224.4,769.7 1228.8,769.8C1233.3,770.0 1237.8,770.3 1242.3,770.6C1246.8,770.9 1251.3,771.3 1255.8,771.7C1260.3,772.1 1264.7,772.6 1269.2,773.0C1273.7,773.4 1278.2,773.9 1282.7,774.3C1287.2,774.7 1291.7,775.1 1296.2,775.5C1300.6,775.8 1305.1,776.1 1309.6,776.3C1314.1,776.5 1318.6,776.7 1323.1,776.8C1327.6,776.9 1332.0,777.0 1336.5,777.0C1341.0,777.0 1345.5,776.9 1350.0,776.8C1354.5,776.7 1359.0,776.6 1363.5,776.4C1367.9,776.2 1372.4,776.0 1376.9,775.7C1381.4,775.5 1385.9,775.1 1390.4,774.8C1394.9,774.5 1399.3,774.1 1403.8,773.6C1408.3,773.2 1412.8,772.8 1417.3,772.3C1421.8,771.8 1426.3,771.3 1430.8,770.7C1435.2,770.2 1439.7,769.6 1444.2,769.0C1448.7,768.4 1453.2,767.8 1457.7,767.1C1462.2,766.5 1466.6,765.8 1471.1,765.1C1475.6,764.4 1480.1,763.7 1484.6,763.0C1489.1,762.3 1493.6,761.5 1498.1,760.8C1502.5,760.0 1507.0,759.2 1511.5,758.5C1516.0,757.7 1520.5,756.9 1525.0,756.1C1529.5,755.3 1534.0,754.5 1538.4,753.7C1542.9,752.9 1547.4,752.1 1551.9,751.3C1556.4,750.5 1560.9,749.7 1565.4,748.9C1569.8,748.1 1574.3,747.3 1578.8,746.6C1583.3,745.8 1587.8,745.1 1592.3,744.4C1596.8,743.7 1601.3,743.0 1605.7,742.4C1610.2,741.8 1614.7,741.2 1619.2,740.7C1623.7,740.1 1628.2,739.7 1632.7,739.3C1637.1,738.9 1641.6,738.5 1646.1,738.3C1650.6,738.0 1655.1,737.8 1659.6,737.7C1664.1,737.7 1668.6,737.6 1673.0,737.7C1677.5,737.8 1682.0,738.0 1686.5,738.2C1691.0,738.5 1695.5,738.9 1700.0,739.3C1704.5,739.8 1708.9,740.3 1713.4,740.9C1717.9,741.6 1722.4,742.3 1726.9,743.1C1731.4,743.9 1735.9,744.8 1740.3,745.8C1744.8,746.8 1749.3,747.9 1753.8,749.1C1758.3,750.3 1762.8,751.6 1767.3,753.0C1771.8,754.3 1776.2,755.8 1780.7,757.4C1785.2,759.0 1789.7,760.6 1794.2,762.4C1798.7,764.2 1803.2,766.1 1807.6,768.0C1812.1,770.0 1816.6,772.1 1821.1,774.2C1825.6,776.4 1830.1,778.7 1834.6,781.0C1839.1,783.4 1843.5,785.9 1848.0,788.4C1852.5,791.0 1857.0,793.7 1861.5,796.4C1866.0,799.2 1870.5,802.1 1874.9,805.0C1879.4,807.9 1883.9,811.0 1888.4,814.1C1892.9,817.2 1897.4,820.3 1901.9,823.6C1906.4,826.8 1910.8,830.1 1915.3,833.5C1919.8,836.9 1924.3,840.3 1928.8,843.8C1933.3,847.3 1937.8,850.8 1942.3,854.4C1946.7,857.9 1951.2,861.5 1955.7,865.2C1960.2,868.8 1964.7,872.5 1969.2,876.2C1973.7,879.9 1978.1,883.6 1982.6,887.3C1987.1,891.1 1991.6,894.8 1996.1,898.6C2000.6,902.4 2005.1,906.1 2009.6,909.9C2014.0,913.6 2018.5,917.4 2023.0,921.2C2027.5,924.9 2032.0,928.7 2036.5,932.4C2041.0,936.1 2045.4,939.8 2049.9,943.5C2054.4,947.2 2058.9,950.8 2063.4,954.4C2067.9,958.0 2072.4,961.6 2076.9,965.1C2081.3,968.7 2085.8,972.1 2090.3,975.6C2094.8,979.0 2099.3,982.4 2103.8,985.7C2108.3,989.0 2112.8,992.3 2117.2,995.4C2121.7,998.6 2126.2,1001.7 2130.7,1004.8C2135.2,1007.8 2139.7,1010.8 2144.2,1013.7C2148.6,1016.6 2153.1,1019.4 2157.6,1022.2C2162.1,1024.9 2166.6,1027.6 2171.1,1030.2C2175.6,1032.8 2180.1,1035.3 2184.5,1037.8C2189.0,1040.2 2195.8,1043.7 2198.0,1044.9" stroke="#727272" stroke-width="6.2"/>
<path d="M327.0,1333.0C329.2,1333.0 336.0,1333.1 340.5,1333.1C344.9,1333.1 349.4,1333.1 353.9,1333.0C358.4,1333.0 362.9,1333.0 367.4,1332.9C371.9,1332.8 376.4,1332.8 380.8,1332.7C385.3,1332.5 389.8,1332.4 394.3,1332.3C398.8,1332.1 403.3,1331.9 407.8,1331.7C412.2,1331.5 416.7,1331.2 421.2,1331.0C425.7,1330.7 430.2,1330.4 434.7,1330.0C439.2,1329.7 443.7,1329.3 448.1,1328.9C452.6,1328.5 457.1,1328.0 461.6,1327.5C466.1,1327.0 470.6,1326.5 475.1,1325.9C479.6,1325.3 484.0,1324.7 488.5,1324.0C493.0,1323.3 497.5,1322.6 502.0,1321.8C506.5,1321.1 511.0,1320.3 515.4,1319.4C519.9,1318.5 524.4,1317.6 528.9,1316.6C533.4,1315.6 537.9,1314.6 542.4,1313.5C546.9,1312.4 551.3,1311.2 555.8,1310.0C560.3,1308.8 564.8,1307.5 569.3,1306.2C573.8,1304.8 578.3,1303.4 582.7,1302.0C587.2,1300.5 591.7,1298.9 596.2,1297.3C600.7,1295.7 605.2,1294.0 609.7,1292.3C614.2,1290.5 618.6,1288.7 623.1,1286.8C627.6,1284.9 632.1,1282.9 636.6,1280.8C641.1,1278.7 645.6,1276.5 650.1,1274.2C654.5,1271.9 659.0,1269.6 663.5,1267.1C668.0,1264.6 672.5,1262.0 677.0,1259.3C681.5,1256.5 685.9,1253.7 690.4,1250.7C694.9,1247.8 699.4,1244.7 703.9,1241.5C708.4,1238.2 712.9,1234.9 717.4,1231.3C721.8,1227.8 726.3,1224.2 730.8,1220.3C735.3,1216.5 739.8,1212.5 744.3,1208.4C748.8,1204.3 753.2,1200.0 757.7,1195.5C762.2,1191.0 766.7,1186.4 771.2,1181.5C775.7,1176.7 780.2,1171.7 784.7,1166.5C789.1,1161.3 793.6,1155.9 798.1,1150.3C802.6,1144.7 807.1,1138.9 811.6,1132.9C816.1,1126.9 820.5,1120.8 825.0,1114.5C829.5,1108.2 834.0,1101.7 838.5,1095.1C843.0,1088.6 847.5,1081.8 852.0,1075.0C856.4,1068.2 860.9,1061.3 865.4,1054.3C869.9,1047.3 874.4,1040.2 878.9,1033.1C883.4,1026.0 887.9,1018.7 892.3,1011.5C896.8,1004.3 901.3,997.0 905.8,989.7C910.3,982.5 914.8,975.2 919.3,967.9C923.7,960.6 928.2,953.3 932.7,946.1C937.2,938.9 941.7,931.7 946.2,924.5C950.7,917.4 955.2,910.3 959.6,903.3C964.1,896.3 968.6,889.4 973.1,882.6C977.6,875.8 982.1,869.1 986.6,862.5C991.0,855.9 995.5,849.4 1000.0,843.2C1004.5,836.9 1009.0,830.7 1013.5,824.7C1018.0,818.8 1022.5,813.0 1026.9,807.4C1031.4,801.8 1035.9,796.4 1040.4,791.2C1044.9,786.0 1049.4,781.0 1053.9,776.3C1058.4,771.6 1062.8,767.2 1067.3,763.0C1071.8,758.8 1076.3,754.9 1080.8,751.2C1085.3,747.5 1089.8,744.1 1094.2,741.0C1098.7,737.8 1103.2,734.9 1107.7,732.2C1112.2,729.5 1116.7,727.0 1121.2,724.7C1125.7,722.4 1130.1,720.4 1134.6,718.5C1139.1,716.6 1143.6,714.9 1148.1,713.4C1152.6,711.9 1157.1,710.5 1161.5,709.3C1166.0,708.1 1170.5,707.1 1175.0,706.2C1179.5,705.2 1184.0,704.5 1188.5,703.8C1193.0,703.1 1197.4,702.6 1201.9,702.1C1206.4,701.7 1210.9,701.3 1215.4,701.1C1219.9,700.8 1224.4,700.6 1228.8,700.5C1233.3,700.3 1237.8,700.3 1242.3,700.3C1246.8,700.2 1251.3,700.3 1255.8,700.3C1260.3,700.4 1264.7,700.5 1269.2,700.6C1273.7,700.7 1278.2,700.9 1282.7,701.0C1287.2,701.2 1291.7,701.3 1296.2,701.5C1300.6,701.6 1305.1,701.8 1309.6,702.0C1314.1,702.1 1318.6,702.2 1323.1,702.3C1327.6,702.4 1332.0,702.5 1336.5,702.6C1341.0,702.6 1345.5,702.6 1350.0,702.6C1354.5,702.5 1359.0,702.4 1363.5,702.3C1367.9,702.1 1372.4,701.9 1376.9,701.6C1381.4,701.3 1385.9,701.0 1390.4,700.6C1394.9,700.2 1399.3,699.8 1403.8,699.4C1408.3,698.9 1412.8,698.4 1417.3,697.9C1421.8,697.4 1426.3,696.8 1430.8,696.3C1435.2,695.7 1439.7,695.1 1444.2,694.5C1448.7,693.9 1453.2,693.3 1457.7,692.7C1462.2,692.1 1466.6,691.4 1471.1,690.8C1475.6,690.2 1480.1,689.6 1484.6,689.0C1489.1,688.4 1493.6,687.9 1498.1,687.3C1502.5,686.7 1507.0,686.2 1511.5,685.7C1516.0,685.2 1520.5,684.7 1525.0,684.3C1529.5,683.8 1534.0,683.4 1538.4,683.1C1542.9,682.7 1547.4,682.4 1551.9,682.2C1556.4,681.9 1560.9,681.7 1565.4,681.6C1569.8,681.5 1574.3,681.4 1578.8,681.4C1583.3,681.4 1587.8,681.5 1592.3,681.6C1596.8,681.8 1601.3,682.0 1605.7,682.3C1610.2,682.6 1614.7,683.0 1619.2,683.6C1623.7,684.1 1628.2,684.7 1632.7,685.4C1637.1,686.1 1641.6,686.9 1646.1,687.8C1650.6,688.7 1655.1,689.8 1659.6,690.9C1664.1,692.1 1668.6,693.3 1673.0,694.7C1677.5,696.0 1682.0,697.5 1686.5,699.1C1691.0,700.6 1695.5,702.3 1700.0,704.0C1704.5,705.8 1708.9,707.6 1713.4,709.5C1717.9,711.5 1722.4,713.5 1726.9,715.5C1731.4,717.6 1735.9,719.8 1740.3,722.0C1744.8,724.2 1749.3,726.5 1753.8,728.8C1758.3,731.2 1762.8,733.6 1767.3,736.1C1771.8,738.6 1776.2,741.2 1780.7,743.9C1785.2,746.5 1789.7,749.2 1794.2,752.0C1798.7,754.8 1803.2,757.7 1807.6,760.6C1812.1,763.6 1816.6,766.6 1821.1,769.7C1825.6,772.8 1830.1,775.9 1834.6,779.2C1839.1,782.4 1843.5,785.7 1848.0,789.1C1852.5,792.5 1857.0,796.0 1861.5,799.5C1866.0,803.0 1870.5,806.6 1874.9,810.3C1879.4,814.0 1883.9,817.7 1888.4,821.4C1892.9,825.2 1897.4,829.0 1901.9,832.9C1906.4,836.7 1910.8,840.7 1915.3,844.6C1919.8,848.5 1924.3,852.5 1928.8,856.4C1933.3,860.4 1937.8,864.4 1942.3,868.4C1946.7,872.5 1951.2,876.5 1955.7,880.5C1960.2,884.5 1964.7,888.6 1969.2,892.6C1973.7,896.6 1978.1,900.7 1982.6,904.7C1987.1,908.7 1991.6,912.7 1996.1,916.6C2000.6,920.6 2005.1,924.6 2009.6,928.5C2014.0,932.4 2018.5,936.3 2023.0,940.1C2027.5,943.9 2032.0,947.7 2036.5,951.5C2041.0,955.2 2045.4,958.9 2049.9,962.6C2054.4,966.2 2058.9,969.8 2063.4,973.3C2067.9,976.8 2072.4,980.2 2076.9,983.6C2081.3,986.9 2085.8,990.2 2090.3,993.4C2094.8,996.6 2099.3,999.7 2103.8,1002.7C2108.3,1005.7 2112.8,1008.6 2117.2,1011.4C2121.7,1014.2 2126.2,1016.9 2130.7,1019.5C2135.2,1022.1 2139.7,1024.7 2144.2,1027.2C2148.6,1029.6 2153.1,1032.0 2157.6,1034.4C2162.1,1036.8 2166.6,1039.1 2171.1,1041.4C2175.6,1043.7 2180.1,1045.9 2184.5,1048.2C2189.0,1050.4 2195.8,1053.8 2198.0,1054.9" stroke="#FFD347" stroke-width="6.0"/>
<path d="M327.0,1321.4C329.2,1321.7 336.0,1322.5 340.5,1323.0C344.9,1323.4 349.4,1323.8 353.9,1324.2C358.4,1324.6 362.9,1324.9 367.4,1325.2C371.9,1325.4 376.4,1325.6 380.8,1325.8C385.3,1326.0 389.8,1326.1 394.3,1326.1C398.8,1326.2 403.3,1326.2 407.8,1326.2C412.2,1326.2 416.7,1326.1 421.2,1325.9C425.7,1325.8 430.2,1325.6 434.7,1325.4C439.2,1325.1 443.7,1324.8 448.1,1324.5C452.6,1324.2 457.1,1323.8 461.6,1323.3C466.1,1322.9 470.6,1322.4 475.1,1321.9C479.6,1321.3 484.0,1320.7 488.5,1320.1C493.0,1319.5 497.5,1318.8 502.0,1318.0C506.5,1317.3 511.0,1316.5 515.4,1315.6C519.9,1314.8 524.4,1313.9 528.9,1312.9C533.4,1312.0 537.9,1311.0 542.4,1309.9C546.9,1308.9 551.3,1307.8 555.8,1306.6C560.3,1305.5 564.8,1304.3 569.3,1303.0C573.8,1301.8 578.3,1300.5 582.7,1299.1C587.2,1297.7 591.7,1296.3 596.2,1294.8C600.7,1293.4 605.2,1291.9 609.7,1290.3C614.2,1288.7 618.6,1287.1 623.1,1285.4C627.6,1283.7 632.1,1281.9 636.6,1280.1C641.1,1278.2 645.6,1276.2 650.1,1274.1C654.5,1272.0 659.0,1269.8 663.5,1267.4C668.0,1265.1 672.5,1262.6 677.0,1259.9C681.5,1257.2 685.9,1254.3 690.4,1251.3C694.9,1248.2 699.4,1245.0 703.9,1241.6C708.4,1238.1 712.9,1234.4 717.4,1230.5C721.8,1226.6 726.3,1222.5 730.8,1218.1C735.3,1213.7 739.8,1209.0 744.3,1204.0C748.8,1199.1 753.2,1193.9 757.7,1188.3C762.2,1182.7 766.7,1176.9 771.2,1170.7C775.7,1164.5 780.2,1158.0 784.7,1151.1C789.1,1144.2 793.6,1137.0 798.1,1129.5C802.6,1121.9 807.1,1114.0 811.6,1105.9C816.1,1097.7 820.5,1089.3 825.0,1080.6C829.5,1071.9 834.0,1063.0 838.5,1053.9C843.0,1044.7 847.5,1035.4 852.0,1025.8C856.4,1016.3 860.9,1006.6 865.4,996.8C869.9,987.0 874.4,977.0 878.9,966.9C883.4,956.8 887.9,946.6 892.3,936.4C896.8,926.2 901.3,915.9 905.8,905.5C910.3,895.2 914.8,884.8 919.3,874.5C923.7,864.1 928.2,853.8 932.7,843.5C937.2,833.2 941.7,822.9 946.2,812.7C950.7,802.6 955.2,792.5 959.6,782.5C964.1,772.5 968.6,762.6 973.1,752.9C977.6,743.2 982.1,733.6 986.6,724.3C991.0,714.9 995.5,705.7 1000.0,696.8C1004.5,687.8 1009.0,679.1 1013.5,670.6C1018.0,662.2 1022.5,654.0 1026.9,646.1C1031.4,638.1 1035.9,630.5 1040.4,623.2C1044.9,615.8 1049.4,608.7 1053.9,601.9C1058.4,595.1 1062.8,588.6 1067.3,582.3C1071.8,576.1 1076.3,570.1 1080.8,564.4C1085.3,558.7 1089.8,553.2 1094.2,548.1C1098.7,542.9 1103.2,538.0 1107.7,533.3C1112.2,528.7 1116.7,524.3 1121.2,520.2C1125.7,516.0 1130.1,512.2 1134.6,508.6C1139.1,505.0 1143.6,501.6 1148.1,498.6C1152.6,495.5 1157.1,492.7 1161.5,490.3C1166.0,487.8 1170.5,485.6 1175.0,483.8C1179.5,481.9 1184.0,480.4 1188.5,479.1C1193.0,477.8 1197.4,476.8 1201.9,476.1C1206.4,475.3 1210.9,474.8 1215.4,474.5C1219.9,474.2 1224.4,474.1 1228.8,474.2C1233.3,474.3 1237.8,474.6 1242.3,474.9C1246.8,475.3 1251.3,475.9 1255.8,476.5C1260.3,477.2 1264.7,477.9 1269.2,478.7C1273.7,479.6 1278.2,480.5 1282.7,481.4C1287.2,482.3 1291.7,483.3 1296.2,484.3C1300.6,485.3 1305.1,486.4 1309.6,487.4C1314.1,488.4 1318.6,489.5 1323.1,490.5C1327.6,491.5 1332.0,492.6 1336.5,493.5C1341.0,494.5 1345.5,495.5 1350.0,496.4C1354.5,497.3 1359.0,498.2 1363.5,499.0C1367.9,499.9 1372.4,500.6 1376.9,501.3C1381.4,502.1 1385.9,502.7 1390.4,503.4C1394.9,504.0 1399.3,504.6 1403.8,505.1C1408.3,505.7 1412.8,506.2 1417.3,506.7C1421.8,507.3 1426.3,507.8 1430.8,508.2C1435.2,508.7 1439.7,509.2 1444.2,509.7C1448.7,510.2 1453.2,510.6 1457.7,511.1C1462.2,511.6 1466.6,512.1 1471.1,512.6C1475.6,513.1 1480.1,513.6 1484.6,514.2C1489.1,514.7 1493.6,515.3 1498.1,516.0C1502.5,516.6 1507.0,517.2 1511.5,517.9C1516.0,518.6 1520.5,519.4 1525.0,520.2C1529.5,521.0 1534.0,521.9 1538.4,522.8C1542.9,523.7 1547.4,524.7 1551.9,525.8C1556.4,526.9 1560.9,528.0 1565.4,529.2C1569.8,530.5 1574.3,531.7 1578.8,533.1C1583.3,534.5 1587.8,535.9 1592.3,537.4C1596.8,539.0 1601.3,540.5 1605.7,542.2C1610.2,543.9 1614.7,545.6 1619.2,547.4C1623.7,549.3 1628.2,551.2 1632.7,553.1C1637.1,555.1 1641.6,557.2 1646.1,559.3C1650.6,561.4 1655.1,563.6 1659.6,565.9C1664.1,568.2 1668.6,570.6 1673.0,573.0C1677.5,575.5 1682.0,578.0 1686.5,580.6C1691.0,583.2 1695.5,585.9 1700.0,588.6C1704.5,591.4 1708.9,594.2 1713.4,597.2C1717.9,600.1 1722.4,603.1 1726.9,606.2C1731.4,609.3 1735.9,612.4 1740.3,615.7C1744.8,618.9 1749.3,622.3 1753.8,625.7C1758.3,629.1 1762.8,632.6 1767.3,636.2C1771.8,639.7 1776.2,643.4 1780.7,647.1C1785.2,650.9 1789.7,654.7 1794.2,658.6C1798.7,662.5 1803.2,666.6 1807.6,670.6C1812.1,674.7 1816.6,678.9 1821.1,683.1C1825.6,687.3 1830.1,691.6 1834.6,696.0C1839.1,700.4 1843.5,704.8 1848.0,709.3C1852.5,713.7 1857.0,718.3 1861.5,722.8C1866.0,727.4 1870.5,732.0 1874.9,736.7C1879.4,741.3 1883.9,746.0 1888.4,750.7C1892.9,755.4 1897.4,760.2 1901.9,764.9C1906.4,769.7 1910.8,774.4 1915.3,779.2C1919.8,784.0 1924.3,788.8 1928.8,793.5C1933.3,798.3 1937.8,803.1 1942.3,807.9C1946.7,812.6 1951.2,817.4 1955.7,822.1C1960.2,826.8 1964.7,831.6 1969.2,836.2C1973.7,840.9 1978.1,845.6 1982.6,850.2C1987.1,854.8 1991.6,859.4 1996.1,863.9C2000.6,868.5 2005.1,873.0 2009.6,877.4C2014.0,881.8 2018.5,886.2 2023.0,890.5C2027.5,894.8 2032.0,899.1 2036.5,903.2C2041.0,907.4 2045.4,911.5 2049.9,915.5C2054.4,919.5 2058.9,923.4 2063.4,927.3C2067.9,931.1 2072.4,934.9 2076.9,938.5C2081.3,942.1 2085.8,945.7 2090.3,949.1C2094.8,952.5 2099.3,955.9 2103.8,959.1C2108.3,962.2 2112.8,965.3 2117.2,968.3C2121.7,971.2 2126.2,974.1 2130.7,976.8C2135.2,979.6 2139.7,982.2 2144.2,984.9C2148.6,987.5 2153.1,990.1 2157.6,992.7C2162.1,995.4 2166.6,998.0 2171.1,1000.6C2175.6,1003.3 2180.1,1006.0 2184.5,1008.8C2189.0,1011.6 2195.8,1016.1 2198.0,1017.6" stroke="#FF5800" stroke-width="6.6"/>
<path d="M327.0,1331.5C329.2,1331.7 336.0,1332.3 340.5,1332.6C344.9,1332.9 349.4,1333.1 353.9,1333.3C358.4,1333.4 362.9,1333.5 367.4,1333.5C371.9,1333.5 376.4,1333.4 380.8,1333.3C385.3,1333.2 389.8,1333.0 394.3,1332.7C398.8,1332.5 403.3,1332.2 407.8,1331.8C412.2,1331.4 416.7,1331.0 421.2,1330.5C425.7,1330.0 430.2,1329.4 434.7,1328.8C439.2,1328.2 443.7,1327.6 448.1,1326.9C452.6,1326.1 457.1,1325.4 461.6,1324.6C466.1,1323.8 470.6,1322.9 475.1,1322.0C479.6,1321.1 484.0,1320.1 488.5,1319.1C493.0,1318.1 497.5,1317.1 502.0,1316.0C506.5,1315.0 511.0,1313.8 515.4,1312.7C519.9,1311.5 524.4,1310.3 528.9,1309.1C533.4,1307.9 537.9,1306.6 542.4,1305.3C546.9,1304.1 551.3,1302.7 555.8,1301.4C560.3,1300.0 564.8,1298.7 569.3,1297.3C573.8,1295.9 578.3,1294.4 582.7,1293.0C587.2,1291.5 591.7,1290.0 596.2,1288.6C600.7,1287.1 605.2,1285.6 609.7,1284.0C614.2,1282.5 618.6,1281.0 623.1,1279.3C627.6,1277.7 632.1,1276.1 636.6,1274.4C641.1,1272.6 645.6,1270.8 650.1,1268.9C654.5,1266.9 659.0,1264.9 663.5,1262.6C668.0,1260.4 672.5,1258.1 677.0,1255.5C681.5,1253.0 685.9,1250.3 690.4,1247.3C694.9,1244.4 699.4,1241.2 703.9,1237.8C708.4,1234.4 712.9,1230.7 717.4,1226.8C721.8,1222.8 726.3,1218.6 730.8,1214.1C735.3,1209.5 739.8,1204.7 744.3,1199.4C748.8,1194.2 753.2,1188.7 757.7,1182.7C762.2,1176.8 766.7,1170.5 771.2,1163.7C775.7,1157.0 780.2,1149.8 784.7,1142.2C789.1,1134.6 793.6,1126.6 798.1,1118.2C802.6,1109.9 807.1,1101.1 811.6,1091.9C816.1,1082.8 820.5,1073.3 825.0,1063.5C829.5,1053.8 834.0,1043.6 838.5,1033.3C843.0,1022.9 847.5,1012.2 852.0,1001.3C856.4,990.4 860.9,979.2 865.4,967.9C869.9,956.5 874.4,944.9 878.9,933.2C883.4,921.5 887.9,909.5 892.3,897.5C896.8,885.4 901.3,873.2 905.8,860.9C910.3,848.6 914.8,836.1 919.3,823.7C923.7,811.2 928.2,798.6 932.7,786.0C937.2,773.4 941.7,760.8 946.2,748.1C950.7,735.5 955.2,722.9 959.6,710.3C964.1,697.7 968.6,685.1 973.1,672.6C977.6,660.1 982.1,647.5 986.6,635.4C991.0,623.3 995.5,611.4 1000.0,599.9C1004.5,588.4 1009.0,577.3 1013.5,566.4C1018.0,555.6 1022.5,545.0 1026.9,534.8C1031.4,524.6 1035.9,514.6 1040.4,505.0C1044.9,495.3 1049.4,485.9 1053.9,476.8C1058.4,467.6 1062.8,458.8 1067.3,450.1C1071.8,441.5 1076.3,433.1 1080.8,424.9C1085.3,416.7 1089.8,408.8 1094.2,401.0C1098.7,393.2 1103.2,385.6 1107.7,378.2C1112.2,370.8 1116.7,363.6 1121.2,356.6C1125.7,349.5 1130.1,342.5 1134.6,335.9C1139.1,329.3 1143.6,322.6 1148.1,316.9C1152.6,311.2 1157.1,306.0 1161.5,301.8C1166.0,297.6 1170.5,294.5 1175.0,291.7C1179.5,288.8 1184.0,286.6 1188.5,284.6C1193.0,282.7 1197.4,281.2 1201.9,280.0C1206.4,278.8 1210.9,277.9 1215.4,277.3C1219.9,276.7 1224.4,276.4 1228.8,276.2C1233.3,276.0 1237.8,276.0 1242.3,276.1C1246.8,276.2 1251.3,276.5 1255.8,276.9C1260.3,277.4 1264.7,277.9 1269.2,278.7C1273.7,279.4 1278.2,280.3 1282.7,281.4C1287.2,282.4 1291.7,283.7 1296.2,285.0C1300.6,286.4 1305.1,287.9 1309.6,289.5C1314.1,291.1 1318.6,292.8 1323.1,294.5C1327.6,296.2 1332.0,298.1 1336.5,299.9C1341.0,301.7 1345.5,303.5 1350.0,305.3C1354.5,307.1 1359.0,308.9 1363.5,310.7C1367.9,312.4 1372.4,314.1 1376.9,315.7C1381.4,317.3 1385.9,318.9 1390.4,320.5C1394.9,322.0 1399.3,323.5 1403.8,325.1C1408.3,326.6 1412.8,328.0 1417.3,329.5C1421.8,331.0 1426.3,332.4 1430.8,333.9C1435.2,335.4 1439.7,336.8 1444.2,338.3C1448.7,339.8 1453.2,341.3 1457.7,342.8C1462.2,344.3 1466.6,345.9 1471.1,347.4C1475.6,349.0 1480.1,350.6 1484.6,352.3C1489.1,353.9 1493.6,355.6 1498.1,357.4C1502.5,359.1 1507.0,360.9 1511.5,362.8C1516.0,364.6 1520.5,366.5 1525.0,368.4C1529.5,370.4 1534.0,372.4 1538.4,374.4C1542.9,376.5 1547.4,378.6 1551.9,380.7C1556.4,382.9 1560.9,385.1 1565.4,387.4C1569.8,389.7 1574.3,392.0 1578.8,394.4C1583.3,396.8 1587.8,399.2 1592.3,401.8C1596.8,404.3 1601.3,406.9 1605.7,409.5C1610.2,412.2 1614.7,414.9 1619.2,417.7C1623.7,420.5 1628.2,423.3 1632.7,426.2C1637.1,429.2 1641.6,432.2 1646.1,435.2C1650.6,438.3 1655.1,441.5 1659.6,444.7C1664.1,447.9 1668.6,451.2 1673.0,454.6C1677.5,458.0 1682.0,461.4 1686.5,465.0C1691.0,468.5 1695.5,472.2 1700.0,475.9C1704.5,479.6 1708.9,483.4 1713.4,487.3C1717.9,491.1 1722.4,495.1 1726.9,499.2C1731.4,503.2 1735.9,507.4 1740.3,511.6C1744.8,515.8 1749.3,520.2 1753.8,524.6C1758.3,529.0 1762.8,533.5 1767.3,538.0C1771.8,542.6 1776.2,547.3 1780.7,552.0C1785.2,556.7 1789.7,561.5 1794.2,566.3C1798.7,571.2 1803.2,576.1 1807.6,581.0C1812.1,586.0 1816.6,591.0 1821.1,596.0C1825.6,601.1 1830.1,606.2 1834.6,611.3C1839.1,616.5 1843.5,621.7 1848.0,626.9C1852.5,632.1 1857.0,637.3 1861.5,642.6C1866.0,647.9 1870.5,653.2 1874.9,658.5C1879.4,663.8 1883.9,669.1 1888.4,674.5C1892.9,679.8 1897.4,685.2 1901.9,690.5C1906.4,695.8 1910.8,701.2 1915.3,706.6C1919.8,711.9 1924.3,717.2 1928.8,722.6C1933.3,727.9 1937.8,733.2 1942.3,738.5C1946.7,743.8 1951.2,749.1 1955.7,754.4C1960.2,759.6 1964.7,764.8 1969.2,770.0C1973.7,775.2 1978.1,780.4 1982.6,785.5C1987.1,790.6 1991.6,795.7 1996.1,800.7C2000.6,805.8 2005.1,810.7 2009.6,815.7C2014.0,820.6 2018.5,825.5 2023.0,830.3C2027.5,835.1 2032.0,839.8 2036.5,844.5C2041.0,849.1 2045.4,853.7 2049.9,858.3C2054.4,862.8 2058.9,867.2 2063.4,871.6C2067.9,875.9 2072.4,880.2 2076.9,884.4C2081.3,888.6 2085.8,892.7 2090.3,896.7C2094.8,900.6 2099.3,904.5 2103.8,908.3C2108.3,912.1 2112.8,915.8 2117.2,919.3C2121.7,922.9 2126.2,926.3 2130.7,929.7C2135.2,933.1 2139.7,936.3 2144.2,939.6C2148.6,942.8 2153.1,945.9 2157.6,949.0C2162.1,952.1 2166.6,955.1 2171.1,958.1C2175.6,961.1 2180.1,964.1 2184.5,967.1C2189.0,970.1 2195.8,974.5 2198.0,976.0" stroke="#7618A0" stroke-width="5.8"/>
<path d="M327.0,1325.7C329.2,1325.6 336.0,1325.5 340.5,1325.3C344.9,1325.2 349.4,1325.1 353.9,1325.0C358.4,1324.8 362.9,1324.7 367.4,1324.5C371.9,1324.4 376.4,1324.2 380.8,1324.0C385.3,1323.8 389.8,1323.6 394.3,1323.4C398.8,1323.1 403.3,1322.8 407.8,1322.5C412.2,1322.2 416.7,1321.9 421.2,1321.5C425.7,1321.1 430.2,1320.7 434.7,1320.3C439.2,1319.8 443.7,1319.4 448.1,1318.8C452.6,1318.3 457.1,1317.7 461.6,1317.1C466.1,1316.4 470.6,1315.8 475.1,1315.0C479.6,1314.3 484.0,1313.5 488.5,1312.6C493.0,1311.8 497.5,1310.9 502.0,1309.9C506.5,1308.9 511.0,1307.9 515.4,1306.8C519.9,1305.7 524.4,1304.5 528.9,1303.2C533.4,1302.0 537.9,1300.6 542.4,1299.2C546.9,1297.8 551.3,1296.3 555.8,1294.7C560.3,1293.2 564.8,1291.5 569.3,1289.8C573.8,1288.0 578.3,1286.2 582.7,1284.2C587.2,1282.3 591.7,1280.3 596.2,1278.2C600.7,1276.0 605.2,1273.8 609.7,1271.5C614.2,1269.1 618.6,1266.7 623.1,1264.2C627.6,1261.6 632.1,1258.9 636.6,1256.1C641.1,1253.3 645.6,1250.3 650.1,1247.1C654.5,1244.0 659.0,1240.7 663.5,1237.2C668.0,1233.7 672.5,1230.0 677.0,1226.1C681.5,1222.1 685.9,1218.0 690.4,1213.7C694.9,1209.3 699.4,1204.7 703.9,1199.9C708.4,1195.0 712.9,1189.9 717.4,1184.6C721.8,1179.2 726.3,1173.5 730.8,1167.6C735.3,1161.6 739.8,1155.4 744.3,1148.8C748.8,1142.2 753.2,1135.3 757.7,1128.1C762.2,1120.9 766.7,1113.3 771.2,1105.3C775.7,1097.4 780.2,1089.1 784.7,1080.4C789.1,1071.7 793.6,1062.7 798.1,1053.2C802.6,1043.7 807.1,1033.8 811.6,1023.6C816.1,1013.4 820.5,1002.8 825.0,991.9C829.5,981.0 834.0,969.7 838.5,958.2C843.0,946.7 847.5,934.9 852.0,922.9C856.4,910.9 860.9,898.6 865.4,886.2C869.9,873.8 874.4,861.1 878.9,848.4C883.4,835.6 887.9,822.6 892.3,809.6C896.8,796.6 901.3,783.4 905.8,770.2C910.3,757.0 914.8,743.8 919.3,730.5C923.7,717.2 928.2,703.8 932.7,690.6C937.2,677.3 941.7,664.0 946.2,650.8C950.7,637.6 955.2,624.4 959.6,611.3C964.1,598.3 968.6,585.3 973.1,572.5C977.6,559.7 982.1,547.0 986.6,534.6C991.0,522.1 995.5,509.8 1000.0,497.7C1004.5,485.7 1009.0,473.8 1013.5,462.3C1018.0,450.7 1022.5,439.4 1026.9,428.5C1031.4,417.5 1035.9,406.8 1040.4,396.5C1044.9,386.2 1049.4,376.2 1053.9,366.7C1058.4,357.1 1062.8,347.9 1067.3,339.2C1071.8,330.5 1076.3,322.2 1080.8,314.4C1085.3,306.6 1089.8,299.2 1094.2,292.2C1098.7,285.3 1103.2,278.8 1107.7,272.7C1112.2,266.6 1116.7,261.0 1121.2,255.8C1125.7,250.6 1130.1,245.9 1134.6,241.6C1139.1,237.2 1143.6,233.3 1148.1,229.9C1152.6,226.4 1157.1,223.4 1161.5,220.8C1166.0,218.2 1170.5,216.0 1175.0,214.3C1179.5,212.5 1184.0,211.2 1188.5,210.2C1193.0,209.2 1197.4,208.7 1201.9,208.4C1206.4,208.1 1210.9,208.2 1215.4,208.5C1219.9,208.8 1224.4,209.5 1228.8,210.3C1233.3,211.2 1237.8,212.3 1242.3,213.5C1246.8,214.8 1251.3,216.3 1255.8,217.9C1260.3,219.5 1264.7,221.3 1269.2,223.1C1273.7,224.9 1278.2,226.9 1282.7,228.9C1287.2,230.9 1291.7,232.9 1296.2,235.0C1300.6,237.1 1305.1,239.3 1309.6,241.5C1314.1,243.7 1318.6,245.9 1323.1,248.2C1327.6,250.5 1332.0,252.9 1336.5,255.3C1341.0,257.7 1345.5,260.1 1350.0,262.6C1354.5,265.1 1359.0,267.7 1363.5,270.3C1367.9,272.9 1372.4,275.5 1376.9,278.2C1381.4,280.9 1385.9,283.6 1390.4,286.4C1394.9,289.2 1399.3,292.1 1403.8,294.9C1408.3,297.8 1412.8,300.8 1417.3,303.7C1421.8,306.7 1426.3,309.7 1430.8,312.8C1435.2,315.9 1439.7,319.0 1444.2,322.2C1448.7,325.3 1453.2,328.5 1457.7,331.8C1462.2,335.1 1466.6,338.4 1471.1,341.7C1475.6,345.1 1480.1,348.4 1484.6,351.9C1489.1,355.3 1493.6,358.8 1498.1,362.3C1502.5,365.9 1507.0,369.4 1511.5,373.1C1516.0,376.7 1520.5,380.3 1525.0,384.0C1529.5,387.8 1534.0,391.5 1538.4,395.3C1542.9,399.1 1547.4,402.9 1551.9,406.8C1556.4,410.7 1560.9,414.6 1565.4,418.6C1569.8,422.6 1574.3,426.6 1578.8,430.6C1583.3,434.7 1587.8,438.8 1592.3,442.9C1596.8,447.1 1601.3,451.2 1605.7,455.5C1610.2,459.7 1614.7,464.0 1619.2,468.3C1623.7,472.6 1628.2,476.9 1632.7,481.3C1637.1,485.7 1641.6,490.1 1646.1,494.6C1650.6,499.1 1655.1,503.6 1659.6,508.1C1664.1,512.7 1668.6,517.3 1673.0,521.9C1677.5,526.5 1682.0,531.2 1686.5,535.9C1691.0,540.6 1695.5,545.4 1700.0,550.2C1704.5,555.0 1708.9,559.8 1713.4,564.7C1717.9,569.6 1722.4,574.5 1726.9,579.4C1731.4,584.4 1735.9,589.4 1740.3,594.4C1744.8,599.4 1749.3,604.5 1753.8,609.6C1758.3,614.6 1762.8,619.8 1767.3,624.9C1771.8,630.1 1776.2,635.2 1780.7,640.4C1785.2,645.6 1789.7,650.9 1794.2,656.1C1798.7,661.3 1803.2,666.6 1807.6,671.8C1812.1,677.0 1816.6,682.3 1821.1,687.6C1825.6,692.8 1830.1,698.1 1834.6,703.4C1839.1,708.6 1843.5,713.9 1848.0,719.1C1852.5,724.4 1857.0,729.6 1861.5,734.8C1866.0,740.0 1870.5,745.2 1874.9,750.4C1879.4,755.6 1883.9,760.8 1888.4,765.9C1892.9,771.0 1897.4,776.1 1901.9,781.2C1906.4,786.3 1910.8,791.3 1915.3,796.3C1919.8,801.3 1924.3,806.3 1928.8,811.2C1933.3,816.1 1937.8,821.0 1942.3,825.8C1946.7,830.6 1951.2,835.4 1955.7,840.1C1960.2,844.8 1964.7,849.5 1969.2,854.1C1973.7,858.7 1978.1,863.2 1982.6,867.7C1987.1,872.1 1991.6,876.5 1996.1,880.8C2000.6,885.2 2005.1,889.4 2009.6,893.6C2014.0,897.7 2018.5,901.8 2023.0,905.8C2027.5,909.8 2032.0,913.7 2036.5,917.6C2041.0,921.4 2045.4,925.2 2049.9,928.8C2054.4,932.5 2058.9,936.1 2063.4,939.6C2067.9,943.2 2072.4,946.6 2076.9,950.0C2081.3,953.4 2085.8,956.7 2090.3,959.9C2094.8,963.2 2099.3,966.3 2103.8,969.4C2108.3,972.6 2112.8,975.6 2117.2,978.6C2121.7,981.6 2126.2,984.5 2130.7,987.3C2135.2,990.2 2139.7,993.0 2144.2,995.7C2148.6,998.5 2153.1,1001.2 2157.6,1003.8C2162.1,1006.4 2166.6,1009.0 2171.1,1011.6C2175.6,1014.1 2180.1,1016.6 2184.5,1019.0C2189.0,1021.5 2195.8,1025.0 2198.0,1026.2" stroke="#00259A" stroke-width="6.8"/>
</g>
<g fill="none" stroke-linecap="butt">
<path d="M309.0,72.0 H2209.5" stroke="#1c1c1c" stroke-width="4.8"/>
<path d="M2209.5,69.6 V1474.6" stroke="#111" stroke-width="6"/>
<path d="M327.0,69.8 V1476.6" stroke="#000" stroke-width="5.9"/>
<path d="M309.0,1456.6 H2211.2" stroke="#000" stroke-width="5.9"/>
<g stroke="#000" stroke-width="5.6000000000000005" stroke-linecap="round">
<line x1="311.0" y1="1318.1" x2="327.0" y2="1318.1"/>
<line x1="311.0" y1="1179.7" x2="327.0" y2="1179.7"/>
<line x1="311.0" y1="1041.2" x2="327.0" y2="1041.2"/>
<line x1="311.0" y1="902.8" x2="327.0" y2="902.8"/>
<line x1="311.0" y1="764.3" x2="327.0" y2="764.3"/>
<line x1="311.0" y1="625.8" x2="327.0" y2="625.8"/>
<line x1="311.0" y1="487.4" x2="327.0" y2="487.4"/>
<line x1="311.0" y1="348.9" x2="327.0" y2="348.9"/>
<line x1="311.0" y1="210.5" x2="327.0" y2="210.5"/>
<line x1="703.4" y1="1456.6" x2="703.4" y2="1474.6"/>
<line x1="1079.8" y1="1456.6" x2="1079.8" y2="1474.6"/>
<line x1="1456.2" y1="1456.6" x2="1456.2" y2="1474.6"/>
<line x1="1832.6" y1="1456.6" x2="1832.6" y2="1474.6"/>
<line x1="2209.0" y1="1456.6" x2="2209.0" y2="1474.6"/>
</g></g>
<text x="273.5" y="1475.3" font-size="62.5" text-anchor="end" font-weight="normal" >0.00</text>
<text x="273.5" y="1336.8" font-size="62.5" text-anchor="end" font-weight="normal" >0.01</text>
<text x="273.5" y="1198.4" font-size="62.5" text-anchor="end" font-weight="normal" >0.02</text>
<text x="273.5" y="1059.9" font-size="62.5" text-anchor="end" font-weight="normal" >0.03</text>
<text x="273.5" y="921.5" font-size="62.5" text-anchor="end" font-weight="normal" >0.04</text>
<text x="273.5" y="783.0" font-size="62.5" text-anchor="end" font-weight="normal" >0.05</text>
<text x="273.5" y="644.5" font-size="62.5" text-anchor="end" font-weight="normal" >0.06</text>
<text x="273.5" y="506.1" font-size="62.5" text-anchor="end" font-weight="normal" >0.07</text>
<text x="273.5" y="367.6" font-size="62.5" text-anchor="end" font-weight="normal" >0.08</text>
<text x="273.5" y="229.2" font-size="62.5" text-anchor="end" font-weight="normal" >0.09</text>
<text x="273.5" y="90.7" font-size="62.5" text-anchor="end" font-weight="normal" >0.10</text>
<text x="327.0" y="1548.5" font-size="62.5" text-anchor="middle" font-weight="normal" >0.00</text>
<text x="703.4" y="1548.5" font-size="62.5" text-anchor="middle" font-weight="normal" >0.20</text>
<text x="1079.8" y="1548.5" font-size="62.5" text-anchor="middle" font-weight="normal" >0.40</text>
<text x="1456.2" y="1548.5" font-size="62.5" text-anchor="middle" font-weight="normal" >0.60</text>
<text x="1832.6" y="1548.5" font-size="62.5" text-anchor="middle" font-weight="normal" >0.80</text>
<text x="2209.0" y="1548.5" font-size="62.5" text-anchor="middle" font-weight="normal" >1.00</text>
<text x="1268.0" y="1633.0" font-size="62" text-anchor="middle" font-weight="bold" >Potential (V)</text>
<text transform="translate(98.5,880) rotate(-90)" font-size="62" text-anchor="middle" font-weight="bold">Cutrent (mA)</text>
<text x="23.0" y="78.0" font-size="72" text-anchor="start" font-weight="normal" >(a)</text>
<line x1="397.5" y1="154.7" x2="495.5" y2="154.7" stroke="#000000" stroke-width="7.6" stroke-linecap="round"/>
<text x="537.0" y="177.0" font-size="52" text-anchor="start" font-weight="normal" >5 µM</text>
<line x1="397.5" y1="234.0" x2="495.5" y2="234.0" stroke="#FF0000" stroke-width="6.8" stroke-linecap="round"/>
<text x="537.0" y="254.6" font-size="52" text-anchor="start" font-weight="normal" >10 µM</text>
<line x1="397.5" y1="311.3" x2="495.5" y2="311.3" stroke="#0000FF" stroke-width="6.6" stroke-linecap="round"/>
<text x="537.0" y="332.1" font-size="52" text-anchor="start" font-weight="normal" >20 µM</text>
<line x1="397.5" y1="389.9" x2="495.5" y2="389.9" stroke="#00A010" stroke-width="7.6" stroke-linecap="round"/>
<text x="537.0" y="409.6" font-size="52" text-anchor="start" font-weight="normal" >40 µM</text>
<line x1="397.5" y1="467.2" x2="495.5" y2="467.2" stroke="#FF00FF" stroke-width="6.4" stroke-linecap="round"/>
<text x="537.0" y="487.2" font-size="52" text-anchor="start" font-weight="normal" >60 µM</text>
<line x1="397.5" y1="546.4" x2="495.5" y2="546.4" stroke="#923500" stroke-width="6.6" stroke-linecap="round"/>
<text x="537.0" y="564.8" font-size="52" text-anchor="start" font-weight="normal" >80 µM</text>
<line x1="397.5" y1="623.4" x2="495.5" y2="623.4" stroke="#727272" stroke-width="6.0" stroke-linecap="round"/>
<text x="537.0" y="642.3" font-size="52" text-anchor="start" font-weight="normal" >100 µM</text>
<line x1="397.5" y1="702.9" x2="495.5" y2="702.9" stroke="#FFD347" stroke-width="6.0" stroke-linecap="round"/>
<text x="537.0" y="719.9" font-size="52" text-anchor="start" font-weight="normal" >120 µM</text>
<line x1="397.5" y1="779.4" x2="495.5" y2="779.4" stroke="#FF5800" stroke-width="6.6" stroke-linecap="round"/>
<text x="537.0" y="797.4" font-size="52" text-anchor="start" font-weight="normal" >140 µM</text>
<line x1="397.5" y1="858.9" x2="495.5" y2="858.9" stroke="#7618A0" stroke-width="5.8" stroke-linecap="round"/>
<text x="537.0" y="874.9" font-size="52" text-anchor="start" font-weight="normal" >160 µM</text>
<line x1="397.5" y1="935.3" x2="495.5" y2="935.3" stroke="#00259A" stroke-width="6.8" stroke-linecap="round"/>
<text x="537.0" y="952.5" font-size="52" text-anchor="start" font-weight="normal" >180 µM</text>
<g fill="none" stroke-linecap="butt">
<path d="M369.0,1890.8 H2151.5" stroke="#1c1c1c" stroke-width="5"/>
<path d="M2151.5,1888.3 V3314.2" stroke="#151515" stroke-width="5.5"/>
<path d="M387.0,1888.4 V3316.2" stroke="#000" stroke-width="5.4"/>
<path d="M369.0,3300.2 H2153.1" stroke="#000" stroke-width="5.4"/>
<g stroke="#000" stroke-width="5.1000000000000005" stroke-linecap="round">
<line x1="371.0" y1="3018.3" x2="387.0" y2="3018.3"/>
<line x1="371.0" y1="2736.3" x2="387.0" y2="2736.3"/>
<line x1="371.0" y1="2454.4" x2="387.0" y2="2454.4"/>
<line x1="371.0" y1="2172.4" x2="387.0" y2="2172.4"/>
<line x1="739.8" y1="3300.2" x2="739.8" y2="3314.2"/>
<line x1="1092.6" y1="3300.2" x2="1092.6" y2="3314.2"/>
<line x1="1445.4" y1="3300.2" x2="1445.4" y2="3314.2"/>
<line x1="1798.2" y1="3300.2" x2="1798.2" y2="3314.2"/>
<line x1="2151.0" y1="3300.2" x2="2151.0" y2="3314.2"/>
</g></g>
<text x="334.0" y="3317.6" font-size="64" text-anchor="end" font-weight="normal" >0.00</text>
<text x="334.0" y="3035.7" font-size="64" text-anchor="end" font-weight="normal" >0.02</text>
<text x="334.0" y="2753.7" font-size="64" text-anchor="end" font-weight="normal" >0.04</text>
<text x="334.0" y="2471.8" font-size="64" text-anchor="end" font-weight="normal" >0.06</text>
<text x="334.0" y="2189.8" font-size="64" text-anchor="end" font-weight="normal" >0.08</text>
<text x="334.0" y="1907.9" font-size="64" text-anchor="end" font-weight="normal" >0.10</text>
<text x="387.0" y="3392.5" font-size="64" text-anchor="middle" font-weight="normal" >0.0</text>
<text x="739.8" y="3392.5" font-size="64" text-anchor="middle" font-weight="normal" >40.0</text>
<text x="1092.6" y="3392.5" font-size="64" text-anchor="middle" font-weight="normal" >80.0</text>
<text x="1445.4" y="3392.5" font-size="64" text-anchor="middle" font-weight="normal" >120.0</text>
<text x="1798.2" y="3392.5" font-size="64" text-anchor="middle" font-weight="normal" >160.0</text>
<text x="2151.0" y="3392.5" font-size="64" text-anchor="middle" font-weight="normal" >200.0</text>
<text x="1270.0" y="3487.5" font-size="63.5" text-anchor="middle" font-weight="bold" >Concentration (µM)</text>
<text transform="translate(129.5,2563) rotate(-90)" font-size="63.5" text-anchor="middle" font-weight="bold">Current (mA)</text>
<text x="61.5" y="1908.0" font-size="72" text-anchor="start" font-weight="normal" >(b)</text>
<text x="1008.5" y="2146.5" font-size="63" text-anchor="middle" font-weight="normal" >y = 0.0005x + 0.0033</text>
<text x="1008.5" y="2218.5" font-size="63" text-anchor="middle" font-weight="normal" >R² = 0.9913</text>
<line x1="431.1" y1="3172.8" x2="1974.6" y2="2047.4" stroke="#505050" stroke-width="3"/>
<circle cx="431.4" cy="3115.5" r="14" fill="#000"/>
<g stroke="#4a4a4a" stroke-width="3.6" fill="none"><line x1="475.5" y1="3095.8" x2="475.5" y2="3109.9"/><line x1="465.0" y1="3095.8" x2="486.0" y2="3095.8"/><line x1="465.0" y1="3109.9" x2="486.0" y2="3109.9"/></g>
<circle cx="475.5" cy="3102.8" r="14" fill="#000"/>
<g stroke="#4a4a4a" stroke-width="3.6" fill="none"><line x1="563.7" y1="3078.9" x2="563.7" y2="3095.8"/><line x1="553.2" y1="3078.9" x2="574.2" y2="3078.9"/><line x1="553.2" y1="3095.8" x2="574.2" y2="3095.8"/></g>
<circle cx="563.7" cy="3087.3" r="14" fill="#000"/>
<g stroke="#4a4a4a" stroke-width="3.6" fill="none"><line x1="740.1" y1="2990.1" x2="740.1" y2="3018.3"/><line x1="729.6" y1="2990.1" x2="750.6" y2="2990.1"/><line x1="729.6" y1="3018.3" x2="750.6" y2="3018.3"/></g>
<circle cx="740.1" cy="3004.2" r="14" fill="#000"/>
<g stroke="#4a4a4a" stroke-width="3.6" fill="none"><line x1="916.5" y1="2774.4" x2="916.5" y2="2825.1"/><line x1="906.0" y1="2774.4" x2="927.0" y2="2774.4"/><line x1="906.0" y1="2825.1" x2="927.0" y2="2825.1"/></g>
<circle cx="916.5" cy="2799.8" r="14" fill="#000"/>
<g stroke="#4a4a4a" stroke-width="3.6" fill="none"><line x1="1092.9" y1="2698.3" x2="1092.9" y2="2754.6"/><line x1="1082.4" y1="2698.3" x2="1103.4" y2="2698.3"/><line x1="1082.4" y1="2754.6" x2="1103.4" y2="2754.6"/></g>
<circle cx="1092.9" cy="2726.5" r="14" fill="#000"/>
<g stroke="#4a4a4a" stroke-width="3.6" fill="none"><line x1="1269.3" y1="2567.2" x2="1269.3" y2="2637.6"/><line x1="1258.8" y1="2567.2" x2="1279.8" y2="2567.2"/><line x1="1258.8" y1="2637.6" x2="1279.8" y2="2637.6"/></g>
<circle cx="1269.3" cy="2602.4" r="14" fill="#000"/>
<g stroke="#4a4a4a" stroke-width="3.6" fill="none"><line x1="1445.7" y1="2441.7" x2="1445.7" y2="2523.5"/><line x1="1435.2" y1="2441.7" x2="1456.2" y2="2441.7"/><line x1="1435.2" y1="2523.5" x2="1456.2" y2="2523.5"/></g>
<circle cx="1445.7" cy="2482.6" r="14" fill="#000"/>
<g stroke="#4a4a4a" stroke-width="3.6" fill="none"><line x1="1622.1" y1="2254.2" x2="1622.1" y2="2352.9"/><line x1="1611.6" y1="2254.2" x2="1632.6" y2="2254.2"/><line x1="1611.6" y1="2352.9" x2="1632.6" y2="2352.9"/></g>
<circle cx="1622.1" cy="2303.5" r="14" fill="#000"/>
<g stroke="#4a4a4a" stroke-width="3.6" fill="none"><line x1="1798.5" y1="2047.0" x2="1798.5" y2="2165.4"/><line x1="1788.0" y1="2047.0" x2="1809.0" y2="2047.0"/><line x1="1788.0" y1="2165.4" x2="1809.0" y2="2165.4"/></g>
<circle cx="1798.5" cy="2106.2" r="14" fill="#000"/>
<g stroke="#4a4a4a" stroke-width="3.6" fill="none"><line x1="1974.9" y1="1968.0" x2="1974.9" y2="2094.9"/><line x1="1964.4" y1="1968.0" x2="1985.4" y2="1968.0"/><line x1="1964.4" y1="2094.9" x2="1985.4" y2="2094.9"/></g>
<circle cx="1974.9" cy="2031.5" r="14" fill="#000"/>
</svg>
</body></html>
